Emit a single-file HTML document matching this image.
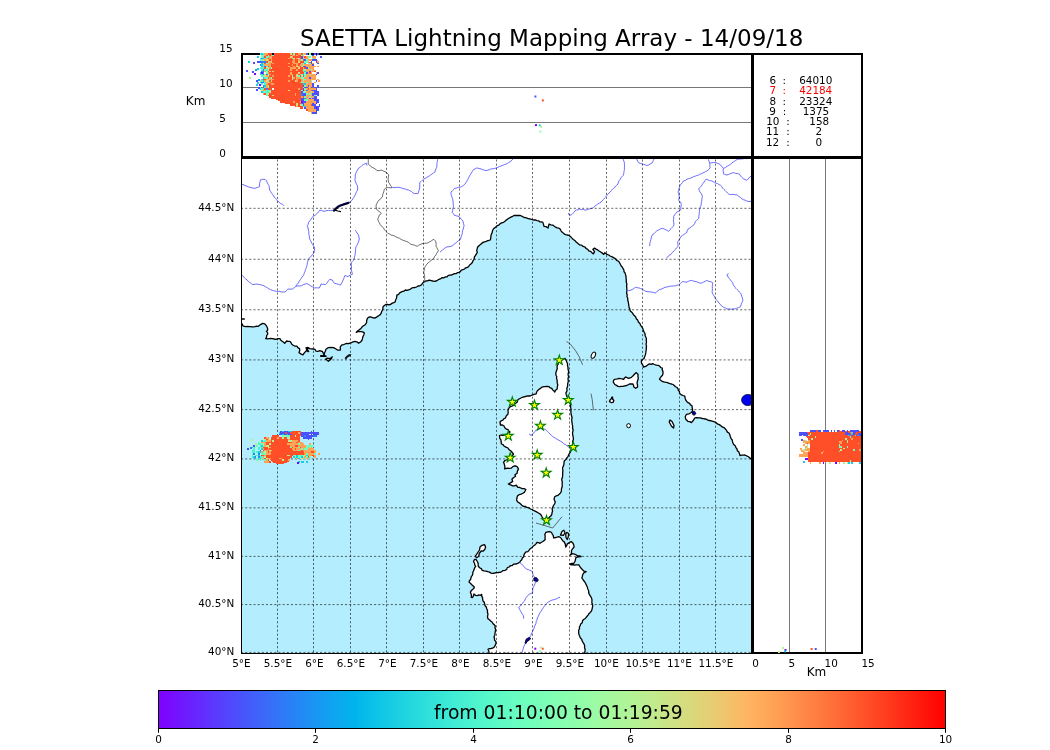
<!DOCTYPE html><html><head><meta charset="utf-8"><title>SAETTA Lightning Mapping Array</title><style>html,body{margin:0;padding:0;background:#fff;width:1050px;height:750px;overflow:hidden}svg{display:block;will-change:transform}text{font-family:"DejaVu Sans","Liberation Sans",sans-serif}</style></head><body><svg width="1050" height="750" viewBox="0 0 1050 750"><defs><clipPath id="mapclip"><rect x="241.5" y="157" width="510" height="496"/></clipPath><clipPath id="topclip"><rect x="242" y="53" width="510" height="104"/></clipPath><clipPath id="topclip2"><rect x="243" y="53" width="508" height="103"/></clipPath><clipPath id="rclip"><rect x="752" y="157" width="110" height="496"/></clipPath><linearGradient id="rbw" x1="0" y1="0" x2="1" y2="0"><stop offset="0.000" stop-color="#8000ff"/><stop offset="0.025" stop-color="#7314ff"/><stop offset="0.050" stop-color="#6628fe"/><stop offset="0.075" stop-color="#593cfd"/><stop offset="0.100" stop-color="#4c4ffc"/><stop offset="0.125" stop-color="#4062fa"/><stop offset="0.150" stop-color="#3374f8"/><stop offset="0.175" stop-color="#2685f5"/><stop offset="0.200" stop-color="#1996f3"/><stop offset="0.225" stop-color="#0da6ef"/><stop offset="0.250" stop-color="#00b4ec"/><stop offset="0.275" stop-color="#0dc2e8"/><stop offset="0.300" stop-color="#19cee3"/><stop offset="0.325" stop-color="#26d9de"/><stop offset="0.350" stop-color="#33e3d9"/><stop offset="0.375" stop-color="#40ecd4"/><stop offset="0.400" stop-color="#4df3ce"/><stop offset="0.425" stop-color="#59f8c8"/><stop offset="0.450" stop-color="#66fcc2"/><stop offset="0.475" stop-color="#73febb"/><stop offset="0.500" stop-color="#80ffb4"/><stop offset="0.525" stop-color="#8cfead"/><stop offset="0.550" stop-color="#99fca6"/><stop offset="0.575" stop-color="#a6f89e"/><stop offset="0.600" stop-color="#b2f396"/><stop offset="0.625" stop-color="#bfec8e"/><stop offset="0.650" stop-color="#cce385"/><stop offset="0.675" stop-color="#d9d97d"/><stop offset="0.700" stop-color="#e5ce74"/><stop offset="0.725" stop-color="#f2c26b"/><stop offset="0.750" stop-color="#ffb462"/><stop offset="0.775" stop-color="#ffa658"/><stop offset="0.800" stop-color="#ff964f"/><stop offset="0.825" stop-color="#ff8545"/><stop offset="0.850" stop-color="#ff743c"/><stop offset="0.875" stop-color="#ff6232"/><stop offset="0.900" stop-color="#ff4f28"/><stop offset="0.925" stop-color="#ff3c1e"/><stop offset="0.950" stop-color="#ff2814"/><stop offset="0.975" stop-color="#ff140a"/><stop offset="1.000" stop-color="#ff0000"/></linearGradient><polygon id="star" points="0.0,-5.1 1.1,-1.6 4.9,-1.6 1.9,0.6 3.0,4.1 0.0,1.9 -3.0,4.1 -1.9,0.6 -4.9,-1.6 -1.1,-1.6"/></defs><text x="300" y="46" font-size="23">SAETTA Lightning Mapping Array - 14/09/18</text><g clip-path="url(#mapclip)"><polygon points="241.5,323.0 242.4,324.6 243.2,326.2 246.0,326.6 247.5,326.4 249.0,326.7 250.5,326.6 252.0,326.8 253.5,326.8 255.0,326.7 256.5,326.1 258.0,326.4 260.4,324.6 262.8,323.4 264.8,323.8 266.4,325.8 267.6,328.2 267.6,330.2 266.4,331.4 267.6,332.6 267.8,334.0 266.6,335.7 266.6,337.3 265.6,338.6 267.5,338.9 269.4,338.6 271.0,338.5 272.6,338.6 274.2,339.0 276.1,339.4 278.0,338.7 279.9,338.6 280.6,340.0 281.8,341.0 283.3,342.1 284.7,343.3 286.6,341.0 288.2,341.3 289.9,341.4 291.1,342.7 291.8,344.3 293.5,345.5 295.0,346.2 296.9,346.2 297.9,347.6 299.5,348.6 299.8,350.2 299.0,352.6 300.7,353.8 302.9,354.8 304.5,352.6 306.4,350.7 306.9,348.8 308.3,347.9 309.8,348.6 311.4,348.9 313.1,349.0 315.0,349.3 316.0,351.2 317.9,351.3 319.8,350.7 322.6,351.7 323.6,354.0 324.0,355.5 324.5,353.1 325.3,351.2 326.0,349.3 328.3,347.6 331.2,347.4 333.6,347.6 336.0,349.0 337.9,350.2 340.2,350.2 340.4,348.5 340.2,346.9 342.1,344.8 343.6,344.6 345.0,344.0 346.6,343.3 348.4,343.7 350.0,343.1 351.6,342.6 353.0,341.8 354.6,341.4 356.8,341.8 358.6,343.1 360.5,342.0 362.0,340.3 362.5,338.3 363.1,336.3 363.9,334.7 364.3,332.9 362.7,331.9 360.9,331.7 359.3,331.7 357.8,331.7 356.3,332.3 357.9,330.8 359.7,329.4 361.0,328.5 361.9,327.1 363.1,326.0 364.6,325.2 365.7,324.0 366.6,322.6 366.6,321.0 367.0,319.4 367.7,318.0 369.4,316.9 371.5,317.2 373.4,318.0 375.3,317.9 376.9,316.9 378.6,315.7 380.3,314.6 381.2,313.1 381.7,311.4 382.6,310.0 382.9,308.3 383.1,306.6 384.5,305.4 386.0,304.3 387.7,304.5 389.4,304.9 390.9,304.1 392.3,303.1 393.7,302.6 395.1,302.0 395.7,299.7 396.5,298.3 396.7,296.7 396.9,295.1 398.6,294.3 399.7,292.9 402.0,291.7 403.9,291.2 405.4,290.0 407.0,290.3 408.5,289.8 410.0,289.4 411.5,288.2 413.4,287.7 415.1,287.5 416.6,287.0 418.0,286.0 419.8,285.8 421.4,284.9 423.1,282.6 424.6,281.8 426.0,280.9 427.6,280.9 429.0,280.2 430.6,280.3 432.0,281.0 433.6,281.1 435.1,281.4 437.4,280.3 439.1,279.3 440.9,278.6 442.2,277.6 444.0,277.8 445.4,276.9 447.1,276.8 448.3,275.3 450.0,275.1 451.6,275.0 453.0,274.3 454.4,273.7 456.0,273.7 457.3,272.7 458.9,272.3 460.3,271.6 461.3,270.1 462.9,269.7 464.5,269.0 465.7,267.8 467.4,267.4 468.7,266.4 469.6,265.0 470.9,264.0 472.3,262.5 473.1,260.6 474.2,259.0 474.3,257.1 475.5,255.4 476.6,253.7 477.3,252.2 476.7,250.6 477.1,249.1 477.6,247.2 478.9,245.7 480.4,244.6 481.7,243.4 483.5,242.1 485.7,241.7 487.1,240.8 488.7,240.5 490.3,240.0 490.7,238.3 490.9,236.6 491.1,234.7 492.0,233.1 492.6,230.3 493.7,228.5 495.4,227.4 497.1,225.7 498.8,225.1 500.1,223.7 501.7,222.9 503.5,222.3 505.0,221.3 506.3,220.0 507.8,218.9 509.3,218.0 510.9,217.1 512.6,216.3 514.3,215.4 516.2,215.5 518.1,215.5 520.0,215.4 521.4,216.0 522.8,216.7 524.1,217.5 525.7,217.7 527.6,218.3 529.5,218.8 531.4,219.4 533.3,220.0 535.3,219.9 537.1,220.6 538.6,220.8 539.9,221.9 541.4,221.9 542.9,222.3 543.4,224.3 544.0,226.3 546.2,226.7 548.0,228.0 548.5,226.0 549.1,224.0 550.8,224.8 552.8,225.1 554.3,226.3 555.7,227.2 557.2,227.9 559.0,228.2 560.3,229.3 561.0,230.8 562.0,232.1 563.5,233.2 564.9,234.4 566.9,235.0 568.9,235.3 570.4,236.5 571.7,237.9 573.3,239.5 575.1,240.7 576.1,242.0 577.4,243.0 579.7,244.9 581.6,245.2 583.1,246.4 584.9,247.0 586.1,248.5 587.7,249.3 588.8,250.8 590.7,251.4 592.0,252.7 593.4,253.9 594.6,251.6 592.9,249.3 594.6,248.1 596.0,249.1 597.7,249.9 599.1,251.0 600.7,252.0 602.3,253.1 603.7,254.4 604.9,252.7 607.1,254.4 608.7,255.0 610.1,256.0 611.7,256.7 613.1,257.3 614.4,258.1 615.7,259.0 616.8,260.5 618.7,261.3 619.7,263.0 620.5,264.5 621.2,266.0 622.4,267.2 623.1,268.7 623.9,270.0 624.0,271.7 625.1,272.9 625.4,274.4 626.0,276.3 626.1,278.2 626.3,280.1 626.2,282.0 626.9,283.9 626.6,285.9 626.8,287.8 626.9,289.7 626.8,291.6 626.6,293.3 627.2,295.0 627.0,296.7 627.8,298.3 627.7,300.0 628.3,302.0 628.6,304.1 628.9,305.9 629.1,307.6 629.9,309.3 630.3,311.0 631.5,312.0 632.6,313.1 633.3,314.5 634.3,315.6 635.7,316.9 636.3,318.8 637.7,320.1 638.4,322.0 639.9,323.4 640.6,325.3 641.9,326.9 642.9,328.7 643.4,330.6 644.2,332.2 645.1,333.9 645.1,335.7 645.9,337.3 646.4,338.9 646.3,340.7 646.5,342.4 646.0,344.1 646.5,345.9 646.3,347.6 646.3,349.3 646.0,351.0 645.8,352.7 645.5,354.4 644.8,356.4 644.0,358.4 641.7,360.1 641.3,361.9 641.7,363.6 642.9,365.1 643.4,367.0 645.7,366.4 648.0,364.7 649.4,363.9 651.2,364.4 652.6,363.6 654.4,364.5 656.3,365.2 658.3,365.3 659.7,366.2 660.7,367.5 662.3,368.1 662.2,369.9 663.0,371.6 663.0,373.6 662.4,375.5 661.2,376.6 660.2,377.8 659.5,379.3 661.1,380.6 662.9,381.7 664.8,382.2 666.8,382.4 668.6,383.1 670.1,383.6 671.6,384.0 673.0,384.5 674.3,385.5 675.5,386.7 677.0,387.5 678.1,388.8 678.3,390.3 679.5,391.5 679.5,393.1 681.0,394.6 682.9,395.5 684.8,396.2 685.2,398.4 686.0,400.4 686.9,401.7 688.1,402.7 689.6,403.4 690.5,404.9 692.0,405.8 692.2,407.6 692.6,409.4 692.5,411.1 691.4,412.5 689.0,413.8 686.5,414.3 685.3,416.5 685.4,418.1 686.0,419.5 687.8,421.3 689.7,421.6 691.4,422.6 693.3,420.5 694.5,418.2 696.5,417.6 699.2,417.8 700.7,417.9 702.2,418.6 703.7,418.7 705.2,419.0 706.7,419.4 708.1,420.3 709.7,420.5 711.2,420.8 712.9,421.3 714.5,421.8 716.0,422.6 717.4,423.9 719.2,424.6 720.8,425.6 721.8,426.7 723.3,427.3 724.6,428.1 725.6,429.2 726.6,430.6 727.4,432.1 729.0,433.0 729.8,434.6 730.3,436.5 731.0,438.4 732.2,440.0 732.5,441.7 733.1,443.3 734.0,444.8 735.4,445.9 735.9,447.7 737.0,449.0 737.4,450.8 738.9,452.1 739.5,453.9 740.0,455.6 741.6,455.2 743.2,455.2 744.8,455.0 746.6,455.8 748.4,456.8 750.0,458.1 751.5,459.5 752.0,459.5 752.0,654.0 241.0,654.0 241.0,323.0" fill="#b4edfd"/><polygon points="565.0,358.4 566.1,360.1 566.8,362.0 567.5,363.7 567.5,365.6 568.0,367.3 568.0,369.2 568.6,371.0 568.4,372.8 568.0,374.6 568.6,376.4 568.2,377.9 568.0,379.4 568.4,380.9 568.0,382.4 567.7,383.9 567.6,385.4 567.4,387.0 566.8,388.4 567.0,389.9 566.8,391.4 565.9,392.9 566.2,394.4 566.8,396.3 568.0,398.0 568.3,399.7 568.9,401.3 569.8,402.8 570.4,404.2 570.6,405.8 570.6,407.3 571.0,408.8 570.9,410.6 570.9,412.4 571.1,414.2 571.6,416.0 572.1,417.7 571.7,419.4 571.8,421.1 572.1,422.7 572.2,424.4 572.7,426.2 572.5,428.0 573.1,429.8 572.8,431.6 572.5,433.2 572.7,434.8 573.1,436.4 573.3,438.0 573.4,439.6 572.7,441.2 572.9,442.8 572.4,444.4 572.7,446.0 571.7,447.5 571.3,449.3 570.8,451.1 570.0,452.7 569.1,454.0 568.4,455.4 567.8,456.9 566.7,458.0 566.0,459.4 564.6,460.5 564.0,462.0 564.0,463.9 563.6,465.6 562.7,467.3 562.6,469.0 562.9,470.6 562.7,472.3 562.7,474.0 562.6,475.7 562.5,477.4 561.7,479.0 562.0,480.7 562.3,482.4 562.1,484.0 562.3,485.6 562.0,487.3 561.4,489.1 561.4,491.0 560.7,492.7 559.5,494.1 558.0,495.3 556.3,495.8 554.7,496.7 554.0,499.3 555.3,502.0 554.6,503.8 553.5,505.5 552.7,507.3 552.1,509.0 552.6,511.0 552.0,512.7 551.8,514.5 550.7,516.0 548.7,518.0 546.0,519.3 543.3,518.7 542.1,517.1 541.3,515.3 539.8,513.8 538.0,512.7 536.1,511.6 534.0,510.7 532.5,509.7 530.5,509.0 528.8,507.8 526.9,507.3 525.1,506.4 523.6,506.3 522.2,505.6 521.1,504.5 520.0,503.4 517.8,502.0 516.8,500.7 516.7,499.0 517.4,496.1 519.3,494.6 521.2,494.1 522.9,493.2 524.3,492.4 525.1,491.0 525.9,489.5 524.1,488.7 522.2,488.7 520.8,488.0 519.4,487.3 517.8,487.3 516.3,485.1 514.6,485.9 512.7,485.8 511.2,485.1 509.7,484.7 508.3,484.0 510.5,482.9 512.7,481.4 511.9,479.2 513.4,477.7 515.6,476.3 514.9,474.8 517.1,473.3 517.4,471.1 518.5,468.9 517.1,466.7 515.7,465.9 514.1,466.0 512.5,466.9 511.2,468.2 509.4,468.3 507.5,468.2 504.6,468.9 505.0,467.1 504.6,465.3 504.2,463.8 503.5,462.3 505.0,460.5 506.6,460.0 508.0,459.0 509.9,457.8 512.0,457.0 512.5,455.4 513.5,454.0 512.2,452.5 511.0,451.0 509.2,449.8 508.0,448.0 505.9,447.1 504.0,446.0 503.0,444.6 501.5,444.0 501.1,442.0 501.0,440.0 500.0,438.7 499.6,437.1 499.5,435.5 501.0,435.0 502.5,435.4 504.0,435.0 506.0,434.4 508.0,434.0 510.0,432.0 508.8,430.9 508.0,429.5 506.3,429.1 505.0,428.0 504.0,426.0 502.4,425.0 500.5,425.0 500.2,423.5 500.0,422.0 501.3,420.8 503.0,420.0 504.0,418.7 505.5,418.0 506.0,416.4 506.9,415.2 508.0,414.0 508.2,412.5 508.0,411.0 508.2,409.4 509.0,408.0 510.5,406.6 512.5,406.0 513.7,405.0 514.7,403.8 516.0,403.0 517.4,402.0 517.7,400.1 519.0,399.0 521.0,398.0 523.0,397.0 524.7,396.9 526.3,396.2 528.0,396.0 530.1,396.0 532.0,395.0 534.1,394.4 536.2,393.8 536.6,392.2 537.4,390.8 538.8,389.5 540.4,388.4 542.0,387.1 544.0,386.6 545.6,386.5 547.2,386.3 548.8,386.6 550.1,387.8 551.8,388.4 552.5,389.8 553.8,390.8 554.8,392.0 555.6,390.2 557.2,389.0 557.3,386.9 557.8,384.8 557.3,383.2 557.1,381.6 557.2,380.0 556.5,378.5 556.8,376.7 556.0,375.2 555.8,373.6 556.0,371.9 556.6,370.4 557.2,368.9 557.1,367.2 557.2,365.6 558.3,364.0 558.4,362.0 559.5,360.7 560.8,359.6 563.0,359.4" fill="#fff" stroke="#000" stroke-width="1.3" stroke-linejoin="round"/><polygon points="489.3,654.0 489.0,652.4 488.7,650.8 488.0,649.3 489.3,648.7 491.0,648.5 492.6,648.2 494.0,647.3 495.2,645.4 496.0,643.3 495.9,641.5 494.5,640.1 494.5,638.4 494.0,636.7 494.9,635.0 495.0,633.1 495.3,631.3 495.7,629.5 494.9,627.8 495.3,626.0 494.2,624.7 492.9,623.5 492.0,622.0 490.7,620.9 489.4,619.7 488.0,618.7 487.5,617.1 487.7,615.6 488.0,614.0 487.4,612.3 487.5,610.4 486.7,608.7 486.3,607.0 485.1,605.7 484.7,604.0 484.3,602.3 483.0,601.0 482.7,599.3 482.5,597.6 481.7,596.1 481.7,594.4 480.4,595.3 478.7,594.9 477.3,595.7 475.8,595.4 474.5,594.5 473.9,594.0 473.5,595.9 472.5,597.5 471.3,597.4 471.5,595.6 471.1,593.9 470.4,592.2 471.3,590.7 472.5,589.5 473.8,588.5 474.3,587.0 472.9,585.7 471.5,584.5 470.4,583.2 469.1,582.2 469.4,580.7 470.6,579.6 470.9,578.1 471.3,576.6 472.3,575.4 472.8,573.9 472.8,572.3 473.5,571.0 474.1,569.4 474.7,567.7 475.7,566.3 474.8,565.0 474.6,563.5 473.5,561.5 474.5,559.5 476.3,559.7 477.3,561.5 478.1,563.0 478.2,564.7 478.3,566.3 479.6,567.7 481.3,568.6 482.3,570.3 484.1,570.9 485.9,571.1 487.7,571.7 489.5,572.1 491.1,573.1 493.0,573.3 494.7,573.0 496.3,572.6 498.0,572.5 499.7,572.3 501.5,571.8 503.1,570.6 505.0,570.3 506.6,569.5 507.3,567.6 509.1,567.0 510.3,565.7 512.2,565.5 513.8,564.1 515.7,564.0 517.8,563.4 519.7,562.3 520.6,560.9 521.8,559.7 522.3,558.0 523.7,557.0 523.9,554.9 525.0,553.0 526.2,551.8 527.9,551.6 529.0,550.3 530.1,548.8 531.8,547.8 533.0,546.3 534.6,545.3 536.0,543.9 537.0,542.3 538.5,542.7 540.0,543.3 541.4,542.3 542.9,541.5 545.1,539.7 545.0,538.0 545.2,536.2 544.8,534.5 545.9,532.3 548.8,531.6 550.4,531.8 551.7,532.7 552.2,534.1 553.2,535.3 553.6,537.8 556.1,537.5 558.7,536.7 560.5,537.5 562.0,539.7 562.9,541.0 564.2,541.9 565.3,544.1 565.7,547.0 566.7,545.7 567.1,544.1 569.3,542.6 571.2,541.5 572.8,542.9 573.7,544.8 574.1,547.0 572.3,549.2 571.5,550.5 571.5,552.1 571.2,553.8 570.1,555.1 572.3,553.6 575.2,554.3 577.4,555.8 579.3,556.0 581.1,556.5 578.2,556.8 576.0,557.3 575.5,559.1 575.2,561.0 573.7,563.5 571.6,563.3 569.7,564.0 570.8,564.8 572.5,564.6 574.3,565.2 576.0,564.8 578.9,564.8 579.6,566.1 581.1,568.3 582.5,569.8 584.0,571.2 586.2,571.6 584.0,572.7 582.6,574.9 582.4,576.4 581.8,577.8 583.3,580.0 585.0,582.3 585.8,583.9 586.6,585.5 587.4,587.2 587.7,589.0 588.6,590.5 588.7,592.2 589.0,593.9 590.0,595.3 591.0,597.0 591.8,598.7 592.0,600.7 591.8,602.5 592.4,604.2 592.7,606.0 592.3,607.8 592.0,609.6 591.3,611.3 590.2,612.4 589.1,613.4 588.3,614.9 587.3,616.0 586.3,617.2 585.4,618.5 584.0,619.3 582.6,620.6 582.2,622.7 580.7,624.0 580.2,625.5 579.4,626.9 579.6,628.6 578.7,630.0 578.7,631.8 578.7,633.6 579.3,635.3 579.9,636.7 580.4,638.1 581.7,639.2 582.0,640.7 583.0,642.4 584.1,644.1 584.7,646.0 584.5,647.6 585.1,649.2 585.1,650.8 584.7,652.4 585.3,654.0 583.8,653.6 582.3,653.5 580.7,654.0 579.2,654.0 577.7,653.8 576.2,654.0 574.6,654.2 573.1,654.1 571.6,654.4 570.1,654.1 568.5,653.5 567.0,653.5 565.5,653.9 564.0,654.0 562.4,654.2 560.9,654.4 559.4,654.2 557.9,653.7 556.3,653.6 554.8,654.1 553.3,653.7 551.8,653.7 550.3,653.8 548.7,653.8 547.2,653.7 545.7,654.1 544.2,653.8 542.6,654.2 541.1,654.0 539.6,653.7 538.1,653.8 536.5,654.2 535.0,653.6 533.5,653.9 532.0,653.9 530.4,654.5 528.9,654.0 527.4,654.2 525.9,653.8 524.3,654.0 522.8,653.7 521.3,653.9 519.8,653.7 518.3,654.2 516.7,653.9 515.2,653.8 513.7,653.7 512.2,654.1 510.6,653.7 509.1,653.6 507.6,653.8 506.1,653.5 504.5,653.5 503.0,654.0 501.5,654.0 500.0,654.3 498.4,653.7 496.9,653.6 495.4,654.0 493.9,653.8 492.3,653.8 490.8,653.8" fill="#fff" stroke="#000" stroke-width="1.3" stroke-linejoin="round"/><polygon points="613.3,381.2 614.3,379.3 615.9,379.1 617.5,378.8 619.0,378.3 620.6,378.6 622.2,378.8 623.8,379.3 624.5,377.9 625.7,376.9 627.1,377.7 628.6,378.3 631.4,377.4 633.3,375.5 634.7,374.0 636.2,372.6 638.1,374.5 637.9,376.1 638.2,377.7 638.1,379.3 637.4,381.2 637.1,383.1 637.5,385.0 637.6,386.9 635.7,388.3 633.8,386.9 633.5,385.4 632.9,384.0 631.2,383.9 629.5,384.0 628.1,384.8 626.7,385.5 624.8,385.9 622.9,386.4 621.3,386.3 619.7,386.6 618.1,386.4 616.5,385.4 614.8,384.5 613.3,382.1" fill="#fff" stroke="#000" stroke-width="1.3" stroke-linejoin="round"/><polygon points="670.0,420.0 672.0,421.5 674.0,425.5 673.6,428.0 671.5,426.3 669.2,422.0" fill="#fff" stroke="#000" stroke-width="1.3" stroke-linejoin="round"/><polygon points="610.0,400.0 611.6,398.5 611.8,397.2 612.6,397.2 612.6,399.0 613.8,400.5 613.2,402.3 611.0,402.6 609.5,401.5" fill="#fff" stroke="#000" stroke-width="1.3" stroke-linejoin="round"/><polygon points="480.0,547.0 482.0,545.3 484.5,544.6 485.6,547.0 484.8,549.5 483.0,551.2 481.2,550.9 479.3,553.5 478.6,556.5 476.5,557.8 475.4,556.2 477.5,553.0 479.5,550.0" fill="#fff" stroke="#000" stroke-width="1.3" stroke-linejoin="round"/><polygon points="560.5,535.0 562.0,531.5 563.8,530.2 565.0,532.5 563.5,535.3" fill="#fff" stroke="#000" stroke-width="1.3" stroke-linejoin="round"/><polygon points="565.7,534.0 567.0,532.5 568.6,533.5 568.2,537.0 567.2,539.5 566.0,537.5" fill="#fff" stroke="#000" stroke-width="1.3" stroke-linejoin="round"/><polygon points="325.5,359.2 327.4,360.3 328.3,361.3 330.0,360.0 331.3,358.8 332.3,356.8 331.5,357.6 329.5,358.6 327.0,358.2" fill="#fff" stroke="#000" stroke-width="1.3" stroke-linejoin="round"/><ellipse cx="593.4" cy="355.2" rx="1.9" ry="3.3" transform="rotate(25 593.4 355.2)" fill="#fff" stroke="#000" stroke-width="1"/><ellipse cx="628.6" cy="425.7" rx="1.9" ry="2.1" fill="#fff" stroke="#000" stroke-width="1"/><polyline points="241.5,323.0 242.4,324.6 243.2,326.2 246.0,326.6 247.5,326.4 249.0,326.7 250.5,326.6 252.0,326.8 253.5,326.8 255.0,326.7 256.5,326.1 258.0,326.4 260.4,324.6 262.8,323.4 264.8,323.8 266.4,325.8 267.6,328.2 267.6,330.2 266.4,331.4 267.6,332.6 267.8,334.0 266.6,335.7 266.6,337.3 265.6,338.6 267.5,338.9 269.4,338.6 271.0,338.5 272.6,338.6 274.2,339.0 276.1,339.4 278.0,338.7 279.9,338.6 280.6,340.0 281.8,341.0 283.3,342.1 284.7,343.3 286.6,341.0 288.2,341.3 289.9,341.4 291.1,342.7 291.8,344.3 293.5,345.5 295.0,346.2 296.9,346.2 297.9,347.6 299.5,348.6 299.8,350.2 299.0,352.6 300.7,353.8 302.9,354.8 304.5,352.6 306.4,350.7 306.9,348.8 308.3,347.9 309.8,348.6 311.4,348.9 313.1,349.0 315.0,349.3 316.0,351.2 317.9,351.3 319.8,350.7 322.6,351.7 323.6,354.0 324.0,355.5 324.5,353.1 325.3,351.2 326.0,349.3 328.3,347.6 331.2,347.4 333.6,347.6 336.0,349.0 337.9,350.2 340.2,350.2 340.4,348.5 340.2,346.9 342.1,344.8 343.6,344.6 345.0,344.0 346.6,343.3 348.4,343.7 350.0,343.1 351.6,342.6 353.0,341.8 354.6,341.4 356.8,341.8 358.6,343.1 360.5,342.0 362.0,340.3 362.5,338.3 363.1,336.3 363.9,334.7 364.3,332.9 362.7,331.9 360.9,331.7 359.3,331.7 357.8,331.7 356.3,332.3 357.9,330.8 359.7,329.4 361.0,328.5 361.9,327.1 363.1,326.0 364.6,325.2 365.7,324.0 366.6,322.6 366.6,321.0 367.0,319.4 367.7,318.0 369.4,316.9 371.5,317.2 373.4,318.0 375.3,317.9 376.9,316.9 378.6,315.7 380.3,314.6 381.2,313.1 381.7,311.4 382.6,310.0 382.9,308.3 383.1,306.6 384.5,305.4 386.0,304.3 387.7,304.5 389.4,304.9 390.9,304.1 392.3,303.1 393.7,302.6 395.1,302.0 395.7,299.7 396.5,298.3 396.7,296.7 396.9,295.1 398.6,294.3 399.7,292.9 402.0,291.7 403.9,291.2 405.4,290.0 407.0,290.3 408.5,289.8 410.0,289.4 411.5,288.2 413.4,287.7 415.1,287.5 416.6,287.0 418.0,286.0 419.8,285.8 421.4,284.9 423.1,282.6 424.6,281.8 426.0,280.9 427.6,280.9 429.0,280.2 430.6,280.3 432.0,281.0 433.6,281.1 435.1,281.4 437.4,280.3 439.1,279.3 440.9,278.6 442.2,277.6 444.0,277.8 445.4,276.9 447.1,276.8 448.3,275.3 450.0,275.1 451.6,275.0 453.0,274.3 454.4,273.7 456.0,273.7 457.3,272.7 458.9,272.3 460.3,271.6 461.3,270.1 462.9,269.7 464.5,269.0 465.7,267.8 467.4,267.4 468.7,266.4 469.6,265.0 470.9,264.0 472.3,262.5 473.1,260.6 474.2,259.0 474.3,257.1 475.5,255.4 476.6,253.7 477.3,252.2 476.7,250.6 477.1,249.1 477.6,247.2 478.9,245.7 480.4,244.6 481.7,243.4 483.5,242.1 485.7,241.7 487.1,240.8 488.7,240.5 490.3,240.0 490.7,238.3 490.9,236.6 491.1,234.7 492.0,233.1 492.6,230.3 493.7,228.5 495.4,227.4 497.1,225.7 498.8,225.1 500.1,223.7 501.7,222.9 503.5,222.3 505.0,221.3 506.3,220.0 507.8,218.9 509.3,218.0 510.9,217.1 512.6,216.3 514.3,215.4 516.2,215.5 518.1,215.5 520.0,215.4 521.4,216.0 522.8,216.7 524.1,217.5 525.7,217.7 527.6,218.3 529.5,218.8 531.4,219.4 533.3,220.0 535.3,219.9 537.1,220.6 538.6,220.8 539.9,221.9 541.4,221.9 542.9,222.3 543.4,224.3 544.0,226.3 546.2,226.7 548.0,228.0 548.5,226.0 549.1,224.0 550.8,224.8 552.8,225.1 554.3,226.3 555.7,227.2 557.2,227.9 559.0,228.2 560.3,229.3 561.0,230.8 562.0,232.1 563.5,233.2 564.9,234.4 566.9,235.0 568.9,235.3 570.4,236.5 571.7,237.9 573.3,239.5 575.1,240.7 576.1,242.0 577.4,243.0 579.7,244.9 581.6,245.2 583.1,246.4 584.9,247.0 586.1,248.5 587.7,249.3 588.8,250.8 590.7,251.4 592.0,252.7 593.4,253.9 594.6,251.6 592.9,249.3 594.6,248.1 596.0,249.1 597.7,249.9 599.1,251.0 600.7,252.0 602.3,253.1 603.7,254.4 604.9,252.7 607.1,254.4 608.7,255.0 610.1,256.0 611.7,256.7 613.1,257.3 614.4,258.1 615.7,259.0 616.8,260.5 618.7,261.3 619.7,263.0 620.5,264.5 621.2,266.0 622.4,267.2 623.1,268.7 623.9,270.0 624.0,271.7 625.1,272.9 625.4,274.4 626.0,276.3 626.1,278.2 626.3,280.1 626.2,282.0 626.9,283.9 626.6,285.9 626.8,287.8 626.9,289.7 626.8,291.6 626.6,293.3 627.2,295.0 627.0,296.7 627.8,298.3 627.7,300.0 628.3,302.0 628.6,304.1 628.9,305.9 629.1,307.6 629.9,309.3 630.3,311.0 631.5,312.0 632.6,313.1 633.3,314.5 634.3,315.6 635.7,316.9 636.3,318.8 637.7,320.1 638.4,322.0 639.9,323.4 640.6,325.3 641.9,326.9 642.9,328.7 643.4,330.6 644.2,332.2 645.1,333.9 645.1,335.7 645.9,337.3 646.4,338.9 646.3,340.7 646.5,342.4 646.0,344.1 646.5,345.9 646.3,347.6 646.3,349.3 646.0,351.0 645.8,352.7 645.5,354.4 644.8,356.4 644.0,358.4 641.7,360.1 641.3,361.9 641.7,363.6 642.9,365.1 643.4,367.0 645.7,366.4 648.0,364.7 649.4,363.9 651.2,364.4 652.6,363.6 654.4,364.5 656.3,365.2 658.3,365.3 659.7,366.2 660.7,367.5 662.3,368.1 662.2,369.9 663.0,371.6 663.0,373.6 662.4,375.5 661.2,376.6 660.2,377.8 659.5,379.3 661.1,380.6 662.9,381.7 664.8,382.2 666.8,382.4 668.6,383.1 670.1,383.6 671.6,384.0 673.0,384.5 674.3,385.5 675.5,386.7 677.0,387.5 678.1,388.8 678.3,390.3 679.5,391.5 679.5,393.1 681.0,394.6 682.9,395.5 684.8,396.2 685.2,398.4 686.0,400.4 686.9,401.7 688.1,402.7 689.6,403.4 690.5,404.9 692.0,405.8 692.2,407.6 692.6,409.4 692.5,411.1 691.4,412.5 689.0,413.8 686.5,414.3 685.3,416.5 685.4,418.1 686.0,419.5 687.8,421.3 689.7,421.6 691.4,422.6 693.3,420.5 694.5,418.2 696.5,417.6 699.2,417.8 700.7,417.9 702.2,418.6 703.7,418.7 705.2,419.0 706.7,419.4 708.1,420.3 709.7,420.5 711.2,420.8 712.9,421.3 714.5,421.8 716.0,422.6 717.4,423.9 719.2,424.6 720.8,425.6 721.8,426.7 723.3,427.3 724.6,428.1 725.6,429.2 726.6,430.6 727.4,432.1 729.0,433.0 729.8,434.6 730.3,436.5 731.0,438.4 732.2,440.0 732.5,441.7 733.1,443.3 734.0,444.8 735.4,445.9 735.9,447.7 737.0,449.0 737.4,450.8 738.9,452.1 739.5,453.9 740.0,455.6 741.6,455.2 743.2,455.2 744.8,455.0 746.6,455.8 748.4,456.8 750.0,458.1 751.5,459.5" fill="none" stroke="#000" stroke-width="1.3" stroke-linejoin="round"/><polygon points="320.2,355.1 326.4,355.2 326.6,356.9 320.2,356.9" fill="#000"/><polygon points="305.2,347.6 307.5,346.8 309.3,347.8 308.0,349.5 309.5,351.5 308.0,352.5 306.5,351.0" fill="#000"/><polygon points="345.1,358.3 345.9,356.8 349,354.5 350.9,354.5 350.5,355.6 347.4,357.3 345.9,359.4" fill="#111" stroke="#000" stroke-width="0.6"/><path d="M241.5,319 H244.8" stroke="#000" stroke-width="1.4"/><polyline points="368.1,157.0 368.2,158.7 368.3,160.4 368.3,162.2 368.1,163.9 369.5,164.9 370.6,166.3 372.1,167.3 373.6,168.0 375.0,168.9 376.4,170.0 377.9,170.7 379.9,170.4 381.9,170.1 383.8,171.3 385.9,171.9 387.3,173.3 388.7,174.7 388.5,176.7 388.1,178.7 388.3,180.7 388.7,182.7 389.8,183.9 390.4,185.5 391.6,186.7 391.6,187.9 390.1,187.8 388.5,187.6 387.0,187.3 385.5,188.3 384.1,189.6 383.8,191.7 383.0,193.6 382.6,195.3 382.4,197.0 381.1,198.0 380.2,199.4 378.8,200.2 377.9,201.6 377.0,203.3 376.1,205.0 376.1,206.6 376.5,208.1 376.7,209.6 377.9,210.5 379.1,211.5 380.4,212.3 381.3,213.6 379.0,215.3 378.8,216.9 377.9,218.3 377.9,219.9 378.6,221.4 379.4,222.9 380.1,224.4 381.1,225.8 382.4,226.8 383.6,227.9 384.5,229.8 385.9,231.3 387.1,232.4 388.1,233.6 389.7,234.0 391.1,235.1 392.7,235.4 394.5,235.9 396.1,237.0 397.8,237.6 399.6,238.3 400.9,239.3 402.3,240.0 403.8,240.5 405.3,241.1 406.8,241.5 408.2,242.2 409.4,243.2 410.6,244.1 412.1,244.6 413.9,244.9 415.6,245.7 417.3,246.3 418.5,245.3 419.9,244.7 421.3,244.0 422.9,243.4 424.7,243.3 426.4,243.2 428.1,242.9 429.4,241.8 431.1,241.3 432.3,240.0 433.9,239.4 435.6,241.1 436.0,242.8 436.1,244.6 436.1,246.3 436.9,247.6 437.5,249.1 438.4,250.3 437.7,251.9 436.7,253.3 436.1,254.9 434.7,256.2 434.0,258.1 432.7,259.4 431.0,260.4 429.6,261.7 428.1,262.9 426.8,264.3 425.8,265.9 424.7,267.4 424.4,268.9 424.2,270.5 423.6,272.0 424.2,273.9 424.6,275.8 424.7,277.7 424.7,279.3 424.3,280.8" fill="none" stroke="#3c3c3c" stroke-width="0.75"/><polyline points="566.4,341.4 570.6,344.4 575.4,350.4 579.0,356.4 582.6,364.8" fill="none" stroke="#3c3c3c" stroke-width="0.75"/><polyline points="591.0,393.6 592.2,399.6 593.4,410.4" fill="none" stroke="#3c3c3c" stroke-width="0.75"/><polyline points="536.0,523.0 552.7,528.0 562.0,516.7" fill="none" stroke="#3c3c3c" stroke-width="0.75"/><polyline points="242.1,184.4 244.1,185.0 246.0,185.9 247.9,186.7 249.6,187.3 251.3,187.7 253.0,188.1 254.7,188.4 256.2,187.8 257.8,187.4 259.3,186.7 259.6,185.0 259.6,183.3 260.1,181.6 260.4,179.9 262.7,179.3 265.0,179.3 266.7,181.0 267.2,182.6 268.0,184.2 269.0,185.6 269.4,187.8 269.6,190.1 270.6,191.4 271.3,192.9 272.4,194.1 273.4,195.5 274.1,197.0 275.4,198.2 276.5,199.6 277.6,201.0 279.1,202.2 280.6,203.5 282.4,204.3 283.9,205.6" fill="none" stroke="#5a5aff" stroke-width="0.9" stroke-linejoin="round"/><polyline points="333.6,210.1 331.9,210.3 330.2,210.7 328.4,210.4 326.7,210.6 325.0,211.1 323.3,211.3 321.6,210.6 319.9,210.1 318.9,211.5 317.7,212.9 316.4,214.1 315.0,215.4 313.3,216.3 311.9,217.6 310.9,219.4 309.6,221.0 308.6,222.4 308.3,224.2 307.3,225.6 308.0,227.8 308.4,230.1 308.9,231.8 308.7,233.6 309.2,235.4 309.4,237.1 309.6,238.9 310.5,240.4 311.1,241.9 311.9,243.4 312.9,244.9 313.9,246.4 314.7,248.0 314.4,250.3 314.1,252.6 313.0,254.0 312.0,255.5 310.5,256.6 309.5,258.0 308.4,259.4 307.9,261.1 307.3,262.8 307.2,264.6 306.7,266.3 306.2,267.9 305.6,269.5 305.1,271.1 304.4,272.7 303.9,274.3 303.2,275.8 302.1,277.0 301.1,278.4 300.3,279.8 299.3,281.1 298.4,283.0 296.9,284.5 295.9,286.3" fill="none" stroke="#5a5aff" stroke-width="0.9" stroke-linejoin="round"/><polyline points="242.1,275.4 243.4,276.4 244.4,277.8 245.6,278.9 247.1,279.9 248.2,281.3 249.6,282.4 251.1,283.4 252.4,284.6 254.7,284.4 257.0,284.0 258.7,284.5 260.5,284.6 262.2,285.3 263.9,285.7 265.6,286.8 267.3,287.7 268.9,288.9 270.7,289.7 272.6,290.4 274.5,290.8 276.4,291.4 278.1,291.4 279.9,291.4 281.5,291.9 283.3,292.0 285.0,292.0 286.5,290.6 287.9,289.1 290.1,289.1 292.4,289.1 294.2,287.7 295.9,286.3 297.8,285.9 299.7,285.9 301.6,285.7 303.2,284.7 305.0,284.2 306.7,283.4 308.1,284.3 309.6,285.1 311.0,286.2 312.7,286.9 314.1,288.0 315.8,287.8 317.6,287.9 319.3,288.0 320.3,286.0 321.0,284.0 323.3,284.3 325.6,284.6 326.7,283.4 327.6,282.0 328.6,280.7 329.6,279.4 332.4,280.0 333.3,281.8 334.7,283.4 336.7,283.8 338.6,284.4 340.4,285.1 341.6,283.1 342.7,281.1 343.5,279.2 344.2,277.3 345.0,275.4 347.3,276.6 349.0,275.9 350.7,275.0 352.4,274.3 351.9,272.0 351.3,269.7 351.5,268.0 351.5,266.3 351.4,264.6 351.3,262.9 352.2,261.6 353.4,260.4 354.1,258.9 354.4,257.3 354.8,255.8 355.2,254.2 355.3,252.6 355.6,250.7 355.6,248.9 355.9,247.0 357.0,245.3 357.9,243.4 358.7,241.2 359.3,239.0 358.7,235.9 358.1,234.3 357.1,233.0 356.2,231.5 355.3,230.1" fill="none" stroke="#5a5aff" stroke-width="0.9" stroke-linejoin="round"/><polyline points="348.4,202.7 350.3,201.8 351.9,200.4 352.7,199.0 353.7,197.6 354.6,196.2 355.3,194.7 355.9,193.1 356.6,191.5 357.6,190.1 357.6,187.8 357.4,185.6 356.3,183.8 355.6,181.8 354.8,179.9 355.2,178.3 355.3,176.7 355.2,175.0 355.8,173.3 356.6,171.6 357.5,170.0 358.4,168.4 360.3,167.2 361.9,165.6 363.3,164.6 364.8,163.9 366.4,163.3 367.0,165.6" fill="none" stroke="#5a5aff" stroke-width="0.9" stroke-linejoin="round"/><polyline points="391.6,187.3 393.3,187.6 395.0,187.5 396.7,187.4 398.4,187.3 400.2,187.6 401.9,188.1 403.5,188.7 405.3,189.0 406.8,189.7 408.5,189.9 409.9,190.7 411.5,191.5 412.8,192.8 414.4,193.6 416.1,193.4 417.9,193.6 418.6,192.1 418.9,190.5 419.6,189.0 419.7,186.9 419.8,184.8 419.6,182.7 421.0,181.6 422.2,180.4 423.6,179.3 425.0,178.4 426.5,177.7 427.9,176.8 429.3,175.9 430.7,174.9 432.1,173.9 433.6,172.9 435.0,171.9 435.4,170.3 436.0,168.8 436.7,167.3 436.9,165.4 436.9,163.5 437.3,161.6 437.7,159.3 437.9,157.0" fill="none" stroke="#5a5aff" stroke-width="0.9" stroke-linejoin="round"/><polyline points="440.0,252.0 441.8,250.7 443.4,249.1 445.1,247.9 446.9,246.9 448.8,246.7 450.8,246.4 452.6,245.7 454.0,244.3 455.7,243.2 457.1,241.7 458.8,240.5 460.6,239.4 460.9,237.6 461.4,235.9 462.1,234.2 462.4,232.4 462.6,230.6 463.3,229.0 463.6,227.3 464.1,225.6 463.4,223.3 463.0,221.0 461.6,219.5 460.3,218.0 459.0,216.4 456.7,215.9 454.4,215.3 453.4,213.7 452.1,212.4 452.7,210.8 452.7,209.0 453.3,207.3 453.5,205.7 453.1,204.1 453.2,202.5 453.0,200.9 452.7,199.3 452.1,197.4 451.4,195.5 451.0,193.6 451.0,191.9 452.3,190.9 453.5,189.8 454.4,188.4 456.3,188.1 458.2,187.4 460.1,187.3 461.7,186.5 463.3,185.5 464.7,184.4 465.8,182.9 466.8,181.3 467.7,179.7 468.5,178.1 469.3,176.4 470.3,174.7 471.4,173.0 472.4,171.3 473.4,169.6 475.2,168.9 476.9,167.9 479.1,168.5 481.4,169.0 482.9,169.8 484.5,170.1 486.0,170.7 487.6,170.2 489.2,169.8 490.6,169.0 492.5,168.8 494.4,168.5 496.3,167.9 497.9,167.4 499.3,166.5 500.9,166.1 502.8,165.3 504.7,164.5 506.6,163.9 508.5,162.6 510.6,161.6 511.8,160.0 513.4,158.7 514.5,157.0" fill="none" stroke="#5a5aff" stroke-width="0.9" stroke-linejoin="round"/><polyline points="568.3,213.0 569.4,215.3 571.7,214.7 572.9,213.4 574.2,212.2 575.1,210.7 576.5,209.9 578.3,209.8 579.7,209.0 581.4,209.6 583.3,209.5 585.0,210.1 586.8,209.9 588.5,209.4 590.1,208.6 591.9,208.4 593.6,207.5 594.9,206.1 596.4,205.0 597.9,204.0 599.5,203.1 601.0,202.1 602.2,200.9 603.4,199.6 604.4,198.2 605.6,197.0 606.7,195.7 607.7,194.3 608.9,193.1 610.2,192.0 611.3,190.7 612.3,189.4 613.5,188.4 614.8,187.4 615.7,186.0 616.9,185.0 618.1,183.9 618.4,182.1 619.3,180.4 620.4,179.2 621.1,177.7 622.1,176.5 623.3,175.3 623.8,173.4 624.0,171.5 624.4,169.6 624.4,167.9 624.5,166.1 624.4,164.4 624.4,162.7 623.8,161.0 623.3,159.3 623.0,157.0" fill="none" stroke="#5a5aff" stroke-width="0.9" stroke-linejoin="round"/><polyline points="635.5,157.0 636.4,158.4 637.1,159.9 637.7,161.4 638.7,162.7 640.3,163.4 641.9,163.9 643.5,164.3 645.2,164.8 646.7,165.6 648.7,164.9 650.6,163.8 652.4,162.7 653.1,160.7 654.1,158.9 654.9,157.0" fill="none" stroke="#5a5aff" stroke-width="0.9" stroke-linejoin="round"/><polyline points="649.7,246.1 649.8,243.8 650.3,241.6 651.0,239.3 651.4,237.0 652.4,234.7 654.0,233.7 655.2,232.3 656.6,231.1 658.1,230.1 659.6,229.4 661.1,228.7 662.7,228.4 664.7,229.2 666.6,230.2 668.4,231.3 669.9,230.2 670.9,228.6 672.2,227.3 673.6,226.1 673.9,224.5 673.9,222.9 673.4,221.2 673.5,219.6 673.9,218.0 673.6,216.4 674.5,215.0 675.5,213.8 676.4,212.4 678.0,211.6 679.5,210.6 681.0,209.6 680.7,207.9 681.1,206.1 681.2,204.4 681.0,202.7 679.8,201.6 678.7,200.4 678.9,198.7 679.3,197.0 679.0,195.3 678.7,193.6 678.0,192.0 678.7,190.5 678.8,188.7 679.6,187.2 679.9,185.6 681.0,184.1 682.4,182.7 683.3,181.0 685.3,180.4 687.0,179.2 688.6,178.6 690.4,178.2 692.0,177.6 693.5,176.6 695.2,176.2 696.7,175.5 698.3,175.2 699.6,174.3 701.2,173.8 702.7,173.0 704.2,172.4 705.7,171.5 707.2,170.8 708.8,169.4 710.2,167.8 709.8,166.2 709.9,164.6 709.6,163.0 709.0,161.2 708.4,159.4 708.0,157.0" fill="none" stroke="#5a5aff" stroke-width="0.9" stroke-linejoin="round"/><polyline points="710.2,163.0 712.0,162.7 713.8,162.6 715.6,162.4 717.2,163.2 718.9,163.8 720.4,164.8 721.9,166.6 723.4,168.4 723.1,170.2 723.4,172.0 723.4,173.8 724.9,174.4 726.4,175.0 728.3,174.6 730.0,173.8 731.8,173.1 733.6,172.6 735.5,173.4 737.7,173.6 739.6,174.4 740.6,176.0 741.8,177.3 743.2,178.6 745.0,179.5 746.8,180.4 748.2,179.0 749.4,177.4 751.0,176.2" fill="none" stroke="#5a5aff" stroke-width="0.9" stroke-linejoin="round"/><polyline points="723.4,168.4 725.3,167.6 727.0,166.3 728.8,165.4 730.5,164.4 731.9,162.9 733.6,161.8 735.4,160.6 737.2,159.4 739.1,159.1 741.1,159.0 743.0,158.8 744.7,158.5 746.3,158.6 748.0,158.6" fill="none" stroke="#5a5aff" stroke-width="0.9" stroke-linejoin="round"/><polyline points="666.3,258.1 667.8,257.0 668.9,255.5 670.6,254.6 671.7,253.1 673.1,251.9 674.4,250.4 675.8,249.0 676.9,247.4 678.3,246.1 677.8,244.1 677.7,242.1 678.5,240.7 679.2,239.2 680.3,238.0 681.0,236.5 682.4,235.5 683.9,234.5 685.3,233.5 686.8,232.6 687.2,230.7 688.0,229.0 689.6,228.1 691.1,227.1 692.4,225.8 694.0,224.8 694.8,223.4 695.2,221.8 696.3,220.5 697.7,219.5 698.8,218.2 698.8,216.5 699.1,214.8 699.1,213.2 699.5,211.5 699.4,209.8 700.1,208.3 700.4,206.5 701.2,205.0 701.2,203.3 701.7,201.6 701.8,199.9 702.0,198.3 702.4,196.6 701.9,194.9 701.2,193.4 700.0,192.0 699.3,190.5 698.8,188.8 699.9,187.5 701.1,186.2 702.1,184.8 703.0,183.4 704.1,182.0 705.0,180.6 706.0,179.2 707.8,179.8 709.5,180.6 711.5,180.8 713.2,181.6 714.6,182.4 716.0,183.2 717.6,183.6 718.9,184.6 720.4,185.2 721.7,186.4 722.6,188.1 723.9,189.4 725.2,190.6 726.4,191.8 727.6,193.0 728.8,194.2 730.5,194.6 732.2,194.4 733.9,194.4 735.5,194.8 737.2,194.8 738.6,196.4 740.5,197.4 742.0,199.0 743.4,199.7 745.0,200.1 746.5,200.9 748.0,201.4 751.0,201.4" fill="none" stroke="#5a5aff" stroke-width="0.9" stroke-linejoin="round"/><polyline points="626.6,291.0 628.3,290.7 630.0,290.4 632.0,289.6 633.8,288.5 635.4,287.3 637.1,287.7 638.9,287.9 640.6,288.6 642.3,289.0 643.9,290.3 645.7,291.3 648.0,291.7 650.3,291.9 652.0,292.1 653.7,292.5 655.4,293.0 656.7,291.8 658.0,290.7 659.4,289.6 661.4,289.1 663.3,288.2 665.1,287.3 666.8,287.0 668.5,286.6 670.2,286.2 672.0,286.1 673.7,285.9 675.5,285.8 677.1,285.1 678.9,285.0 680.0,283.8 681.1,282.7 682.3,281.6 684.6,281.9 686.9,282.1 688.3,281.4 689.8,280.7 691.4,280.4 693.7,281.1 696.0,281.6 697.6,282.1 699.0,282.8 700.6,283.3 702.3,282.8 703.8,281.9 705.4,281.3 706.9,280.4 708.7,281.3 710.8,281.7 712.6,282.7 712.6,284.5 712.3,286.4 712.3,288.2 712.4,290.1 712.0,291.9 712.7,293.7 713.6,295.3 714.6,297.0 715.4,298.7 716.5,300.1 717.8,301.3 718.8,302.9 720.1,304.1 721.1,305.6 722.5,306.5 723.9,307.5 725.5,308.0 726.9,309.0 728.5,308.9 730.1,309.0 731.7,309.2 733.3,308.8 734.9,309.0 736.8,308.2 738.7,307.5 740.6,306.7 741.0,304.9 741.5,303.2 742.5,301.6 742.9,299.9 742.4,298.2 741.8,296.4 741.2,294.7 740.6,293.0 739.3,292.0 738.3,290.7 737.2,289.6 736.0,288.4 734.9,287.3 734.0,285.9 733.1,284.3 732.6,282.7 731.5,281.3 730.4,279.8 729.2,278.4 728.0,277.0 726.9,274.7 728.6,273.6" fill="none" stroke="#5a5aff" stroke-width="0.9" stroke-linejoin="round"/><polyline points="529.0,434.0 531.4,435.5 532.2,434.0 533.7,433.1 534.7,431.8 535.6,430.4 537.1,429.5 538.8,429.2 540.4,428.6 542.0,428.6 543.6,429.2 545.2,429.2 546.3,430.5 547.7,431.5 548.8,432.8 550.0,434.0 551.2,435.2 552.4,436.4 554.1,437.3 555.6,438.4 557.2,439.4 558.8,440.2 560.4,441.1 562.0,442.0 563.2,443.3 564.6,444.2 566.2,445.0 567.4,446.2 568.7,447.3 570.5,448.4 572.5,449.0" fill="none" stroke="#5a5aff" stroke-width="0.9" stroke-linejoin="round"/><polyline points="519.7,562.3 521.1,563.5 522.3,565.0 523.8,566.2 524.9,567.7 526.3,569.0 528.2,569.5 529.9,570.4 531.7,571.0 532.6,572.5 532.8,574.2 533.7,575.7 534.6,577.7 535.7,579.7 535.5,581.7 535.0,583.7 534.2,585.8 533.0,587.7 532.7,589.4 532.6,591.0 532.7,592.7 531.0,593.4 529.3,594.0 528.2,595.5 526.7,596.7 525.4,598.6 524.7,600.7 523.4,601.9 522.5,603.4 521.3,604.7 520.2,606.2 518.7,607.3 519.6,609.4 520.7,611.3 521.8,613.5 523.3,615.3 523.6,617.0 523.7,618.7" fill="none" stroke="#5a5aff" stroke-width="0.9" stroke-linejoin="round"/><polyline points="560.0,597.3 558.4,597.6 557.0,598.6 555.4,599.2 553.9,599.8 552.2,600.0 550.7,600.7 548.6,601.8 546.7,603.3 545.5,604.5 544.6,605.9 543.6,607.3 542.7,608.7 541.7,610.0 540.9,611.4 540.0,612.7 539.1,614.5 538.4,616.3 537.3,618.0 537.1,619.8 536.2,621.5 536.0,623.3 535.2,625.0 534.4,626.8 534.0,628.7 533.0,630.4 532.2,632.2 531.3,634.0 530.8,635.6 529.8,637.0 529.3,638.7 528.0,639.7 526.7,640.7 525.5,642.6 524.7,644.7 523.8,646.6 523.3,648.7 522.5,650.8 522.0,653.0" fill="none" stroke="#5a5aff" stroke-width="0.9" stroke-linejoin="round"/><path d="M334,210.6 C336,208 339,205.6 343,204.6 C345,204 347,203.5 348.6,202.8" fill="none" stroke="#000033" stroke-width="2.2" stroke-linecap="round"/><path d="M335,210.2 L338,211 L340.5,211.6" fill="none" stroke="#000" stroke-width="1.2" stroke-linecap="round"/><ellipse cx="747.8" cy="400" rx="6.2" ry="5.6" fill="#0000f0" stroke="#000033" stroke-width="0.8"/><polygon points="692.3,412 694.5,411.2 696,413.6 694.2,415.3 692.6,414.6" fill="#0000c8" stroke="#000" stroke-width="0.8"/><polygon points="533.8,578 536.5,577.6 538.4,580.3 536.8,581.8 535,580.6 534,581" fill="#0000c8" stroke="#000" stroke-width="0.9"/><polygon points="525,642.8 526.3,639 528.8,637.6 530.6,638.3 529.5,640 527,641.5 526,643.6" fill="#0000c8" stroke="#000" stroke-width="0.9"/><line x1="277.50" y1="652.4" x2="277.50" y2="157" stroke="#000" stroke-width="1" stroke-dasharray="2.08,2.08" opacity="0.6"/><line x1="313.50" y1="652.4" x2="313.50" y2="157" stroke="#000" stroke-width="1" stroke-dasharray="2.08,2.08" opacity="0.6"/><line x1="350.50" y1="652.4" x2="350.50" y2="157" stroke="#000" stroke-width="1" stroke-dasharray="2.08,2.08" opacity="0.6"/><line x1="386.50" y1="652.4" x2="386.50" y2="157" stroke="#000" stroke-width="1" stroke-dasharray="2.08,2.08" opacity="0.6"/><line x1="423.50" y1="652.4" x2="423.50" y2="157" stroke="#000" stroke-width="1" stroke-dasharray="2.08,2.08" opacity="0.6"/><line x1="459.50" y1="652.4" x2="459.50" y2="157" stroke="#000" stroke-width="1" stroke-dasharray="2.08,2.08" opacity="0.6"/><line x1="496.50" y1="652.4" x2="496.50" y2="157" stroke="#000" stroke-width="1" stroke-dasharray="2.08,2.08" opacity="0.6"/><line x1="532.50" y1="652.4" x2="532.50" y2="157" stroke="#000" stroke-width="1" stroke-dasharray="2.08,2.08" opacity="0.6"/><line x1="569.50" y1="652.4" x2="569.50" y2="157" stroke="#000" stroke-width="1" stroke-dasharray="2.08,2.08" opacity="0.6"/><line x1="606.50" y1="652.4" x2="606.50" y2="157" stroke="#000" stroke-width="1" stroke-dasharray="2.08,2.08" opacity="0.6"/><line x1="642.50" y1="652.4" x2="642.50" y2="157" stroke="#000" stroke-width="1" stroke-dasharray="2.08,2.08" opacity="0.6"/><line x1="679.50" y1="652.4" x2="679.50" y2="157" stroke="#000" stroke-width="1" stroke-dasharray="2.08,2.08" opacity="0.6"/><line x1="715.50" y1="652.4" x2="715.50" y2="157" stroke="#000" stroke-width="1" stroke-dasharray="2.08,2.08" opacity="0.6"/><line x1="241" y1="652.40" x2="752" y2="652.40" stroke="#000" stroke-width="1" stroke-dasharray="2.08,2.08" opacity="0.6"/><line x1="241" y1="604.58" x2="752" y2="604.58" stroke="#000" stroke-width="1" stroke-dasharray="2.08,2.08" opacity="0.6"/><line x1="241" y1="556.40" x2="752" y2="556.40" stroke="#000" stroke-width="1" stroke-dasharray="2.08,2.08" opacity="0.6"/><line x1="241" y1="507.85" x2="752" y2="507.85" stroke="#000" stroke-width="1" stroke-dasharray="2.08,2.08" opacity="0.6"/><line x1="241" y1="458.92" x2="752" y2="458.92" stroke="#000" stroke-width="1" stroke-dasharray="2.08,2.08" opacity="0.6"/><line x1="241" y1="409.61" x2="752" y2="409.61" stroke="#000" stroke-width="1" stroke-dasharray="2.08,2.08" opacity="0.6"/><line x1="241" y1="359.91" x2="752" y2="359.91" stroke="#000" stroke-width="1" stroke-dasharray="2.08,2.08" opacity="0.6"/><line x1="241" y1="309.79" x2="752" y2="309.79" stroke="#000" stroke-width="1" stroke-dasharray="2.08,2.08" opacity="0.6"/><line x1="241" y1="259.27" x2="752" y2="259.27" stroke="#000" stroke-width="1" stroke-dasharray="2.08,2.08" opacity="0.6"/><line x1="241" y1="208.31" x2="752" y2="208.31" stroke="#000" stroke-width="1" stroke-dasharray="2.08,2.08" opacity="0.6"/><use href="#star" x="559.3" y="360.3" fill="#ffff00" stroke="#008000" stroke-width="1.1" stroke-linejoin="miter"/><use href="#star" x="512.3" y="402.0" fill="#ffff00" stroke="#008000" stroke-width="1.1" stroke-linejoin="miter"/><use href="#star" x="534.5" y="405.2" fill="#ffff00" stroke="#008000" stroke-width="1.1" stroke-linejoin="miter"/><use href="#star" x="568.3" y="400.1" fill="#ffff00" stroke="#008000" stroke-width="1.1" stroke-linejoin="miter"/><use href="#star" x="557.6" y="415.0" fill="#ffff00" stroke="#008000" stroke-width="1.1" stroke-linejoin="miter"/><use href="#star" x="540.4" y="425.9" fill="#ffff00" stroke="#008000" stroke-width="1.1" stroke-linejoin="miter"/><use href="#star" x="508.3" y="436.0" fill="#ffff00" stroke="#008000" stroke-width="1.1" stroke-linejoin="miter"/><use href="#star" x="510.2" y="457.8" fill="#ffff00" stroke="#008000" stroke-width="1.1" stroke-linejoin="miter"/><use href="#star" x="537.2" y="455.0" fill="#ffff00" stroke="#008000" stroke-width="1.1" stroke-linejoin="miter"/><use href="#star" x="573.3" y="447.1" fill="#ffff00" stroke="#008000" stroke-width="1.1" stroke-linejoin="miter"/><use href="#star" x="546.2" y="472.9" fill="#ffff00" stroke="#008000" stroke-width="1.1" stroke-linejoin="miter"/><use href="#star" x="546.5" y="520.4" fill="#ffff00" stroke="#008000" stroke-width="1.1" stroke-linejoin="miter"/></g><g clip-path="url(#mapclip)" shape-rendering="crispEdges"><rect x="252.5" y="445.0" width="2" height="2" fill="#4c4ffc"/><rect x="250.0" y="447.0" width="2" height="2" fill="#2982f6"/><rect x="253.0" y="451.5" width="2" height="2" fill="#19cee3"/><rect x="255.0" y="443.0" width="2" height="2" fill="#b2f396"/><rect x="247.0" y="448.0" width="2" height="2" fill="#4c4ffc"/><rect x="298.3" y="460.5" width="2" height="2" fill="#19cee3"/><rect x="300.5" y="461.0" width="2" height="2" fill="#19cee3"/><rect x="302.0" y="461.0" width="2" height="2" fill="#19cee3"/><rect x="296.5" y="462.3" width="2" height="2" fill="#8000ff"/><rect x="306.3" y="461.0" width="2" height="2" fill="#19cee3"/><rect x="318.0" y="453.2" width="2" height="2" fill="#ffa356"/><rect x="251.0" y="439.0" width="2" height="2" fill="#b2f396"/><polygon points="271.8,438.2 272.9,436.5 277.5,435.3 281.0,437.5 289.6,437.6 290.7,431.3 296.0,430.8 301.0,431.5 303.9,433.0 304.5,434.7 302.2,435.9 299.3,436.5 298.8,438.2 299.9,440.5 299.3,442.2 295.3,439.9 289.0,444.5 292.5,450.2 296.5,450.8 303.9,451.0 304.0,454.2 296.5,454.5 294.2,454.8 291.3,456.0 290.2,459.4 288.4,461.7 283.0,463.4 278.7,463.8 273.0,462.8 269.5,459.0 267.0,454.0 266.3,448.5 267.3,443.0 269.5,439.5" fill="#ff4f28"/><rect x="280.4" y="430.6" width="1.6" height="1.6" fill="#4c4ffc"/><rect x="282.0" y="430.6" width="1.6" height="1.6" fill="#19cee3"/><rect x="283.6" y="430.6" width="4.8" height="1.6" fill="#4c4ffc"/><rect x="288.4" y="430.6" width="3.2" height="1.6" fill="#19cee3"/><rect x="293.2" y="430.6" width="8.0" height="1.6" fill="#ff4f28"/><rect x="310.8" y="430.6" width="1.6" height="1.6" fill="#4c4ffc"/><rect x="278.8" y="432.2" width="1.6" height="1.6" fill="#19cee3"/><rect x="280.4" y="432.2" width="4.8" height="1.6" fill="#4c4ffc"/><rect x="285.2" y="432.2" width="1.6" height="1.6" fill="#ff4f28"/><rect x="286.8" y="432.2" width="3.2" height="1.6" fill="#4c4ffc"/><rect x="290.0" y="432.2" width="8.0" height="1.6" fill="#ff4f28"/><rect x="298.0" y="432.2" width="1.6" height="1.6" fill="#ffa356"/><rect x="299.6" y="432.2" width="1.6" height="1.6" fill="#ff4f28"/><rect x="301.2" y="432.2" width="17.6" height="1.6" fill="#4c4ffc"/><rect x="278.8" y="433.8" width="3.2" height="1.6" fill="#4c4ffc"/><rect x="282.0" y="433.8" width="1.6" height="1.6" fill="#19cee3"/><rect x="283.6" y="433.8" width="3.2" height="1.6" fill="#4c4ffc"/><rect x="286.8" y="433.8" width="1.6" height="1.6" fill="#19cee3"/><rect x="288.4" y="433.8" width="3.2" height="1.6" fill="#4c4ffc"/><rect x="291.6" y="433.8" width="9.6" height="1.6" fill="#ff4f28"/><rect x="301.2" y="433.8" width="8.0" height="1.6" fill="#4c4ffc"/><rect x="310.8" y="433.8" width="1.6" height="1.6" fill="#4c4ffc"/><rect x="314.0" y="433.8" width="4.8" height="1.6" fill="#4c4ffc"/><rect x="272.4" y="435.4" width="6.4" height="1.6" fill="#ff4f28"/><rect x="282.0" y="435.4" width="1.6" height="1.6" fill="#70febd"/><rect x="283.6" y="435.4" width="1.6" height="1.6" fill="#b2f396"/><rect x="285.2" y="435.4" width="4.8" height="1.6" fill="#70febd"/><rect x="290.0" y="435.4" width="4.8" height="1.6" fill="#ff4f28"/><rect x="294.8" y="435.4" width="1.6" height="1.6" fill="#b2f396"/><rect x="296.4" y="435.4" width="3.2" height="1.6" fill="#ff4f28"/><rect x="301.2" y="435.4" width="3.2" height="1.6" fill="#4c4ffc"/><rect x="304.4" y="435.4" width="1.6" height="1.6" fill="#2982f6"/><rect x="306.0" y="435.4" width="8.0" height="1.6" fill="#4c4ffc"/><rect x="314.0" y="435.4" width="1.6" height="1.6" fill="#2982f6"/><rect x="315.6" y="435.4" width="1.6" height="1.6" fill="#4c4ffc"/><rect x="264.4" y="437.0" width="1.6" height="1.6" fill="#ff4f28"/><rect x="266.0" y="437.0" width="3.2" height="1.6" fill="#ffa356"/><rect x="270.8" y="437.0" width="6.4" height="1.6" fill="#ff4f28"/><rect x="277.2" y="437.0" width="1.6" height="1.6" fill="#ffa356"/><rect x="278.8" y="437.0" width="3.2" height="1.6" fill="#ff4f28"/><rect x="282.0" y="437.0" width="1.6" height="1.6" fill="#b2f396"/><rect x="283.6" y="437.0" width="3.2" height="1.6" fill="#ff4f28"/><rect x="286.8" y="437.0" width="1.6" height="1.6" fill="#70febd"/><rect x="288.4" y="437.0" width="1.6" height="1.6" fill="#b2f396"/><rect x="290.0" y="437.0" width="9.6" height="1.6" fill="#ff4f28"/><rect x="302.8" y="437.0" width="9.6" height="1.6" fill="#4c4ffc"/><rect x="262.8" y="438.6" width="3.2" height="1.6" fill="#b2f396"/><rect x="266.0" y="438.6" width="1.6" height="1.6" fill="#ff4f28"/><rect x="267.6" y="438.6" width="1.6" height="1.6" fill="#ffa356"/><rect x="269.2" y="438.6" width="1.6" height="1.6" fill="#b2f396"/><rect x="270.8" y="438.6" width="17.6" height="1.6" fill="#ff4f28"/><rect x="288.4" y="438.6" width="1.6" height="1.6" fill="#ffa356"/><rect x="290.0" y="438.6" width="9.6" height="1.6" fill="#ff4f28"/><rect x="307.6" y="438.6" width="1.6" height="1.6" fill="#4c4ffc"/><rect x="261.2" y="440.2" width="1.6" height="1.6" fill="#19cee3"/><rect x="262.8" y="440.2" width="1.6" height="1.6" fill="#70febd"/><rect x="264.4" y="440.2" width="1.6" height="1.6" fill="#4df3ce"/><rect x="266.0" y="440.2" width="4.8" height="1.6" fill="#ffa356"/><rect x="270.8" y="440.2" width="1.6" height="1.6" fill="#ff4f28"/><rect x="272.4" y="440.2" width="1.6" height="1.6" fill="#b2f396"/><rect x="274.0" y="440.2" width="14.4" height="1.6" fill="#ff4f28"/><rect x="288.4" y="440.2" width="3.2" height="1.6" fill="#b2f396"/><rect x="291.6" y="440.2" width="6.4" height="1.6" fill="#ffa356"/><rect x="298.0" y="440.2" width="1.6" height="1.6" fill="#ff4f28"/><rect x="258.0" y="441.8" width="1.6" height="1.6" fill="#70febd"/><rect x="261.2" y="441.8" width="4.8" height="1.6" fill="#ffa356"/><rect x="266.0" y="441.8" width="25.6" height="1.6" fill="#ff4f28"/><rect x="291.6" y="441.8" width="4.8" height="1.6" fill="#ffa356"/><rect x="296.4" y="441.8" width="1.6" height="1.6" fill="#ff4f28"/><rect x="298.0" y="441.8" width="4.8" height="1.6" fill="#ffa356"/><rect x="258.0" y="443.4" width="3.2" height="1.6" fill="#4df3ce"/><rect x="261.2" y="443.4" width="1.6" height="1.6" fill="#70febd"/><rect x="262.8" y="443.4" width="1.6" height="1.6" fill="#b2f396"/><rect x="264.4" y="443.4" width="1.6" height="1.6" fill="#ffa356"/><rect x="266.0" y="443.4" width="3.2" height="1.6" fill="#ff4f28"/><rect x="269.2" y="443.4" width="1.6" height="1.6" fill="#b2f396"/><rect x="270.8" y="443.4" width="16.0" height="1.6" fill="#ff4f28"/><rect x="286.8" y="443.4" width="11.2" height="1.6" fill="#ffa356"/><rect x="298.0" y="443.4" width="1.6" height="1.6" fill="#70febd"/><rect x="299.6" y="443.4" width="4.8" height="1.6" fill="#ffa356"/><rect x="309.2" y="443.4" width="1.6" height="1.6" fill="#ffa356"/><rect x="256.4" y="445.0" width="1.6" height="1.6" fill="#70febd"/><rect x="259.6" y="445.0" width="1.6" height="1.6" fill="#4df3ce"/><rect x="261.2" y="445.0" width="1.6" height="1.6" fill="#19cee3"/><rect x="262.8" y="445.0" width="1.6" height="1.6" fill="#70febd"/><rect x="264.4" y="445.0" width="1.6" height="1.6" fill="#ffa356"/><rect x="266.0" y="445.0" width="3.2" height="1.6" fill="#b2f396"/><rect x="269.2" y="445.0" width="20.8" height="1.6" fill="#ff4f28"/><rect x="290.0" y="445.0" width="4.8" height="1.6" fill="#ffa356"/><rect x="294.8" y="445.0" width="3.2" height="1.6" fill="#ff4f28"/><rect x="298.0" y="445.0" width="8.0" height="1.6" fill="#ffa356"/><rect x="306.0" y="445.0" width="8.0" height="1.6" fill="#70febd"/><rect x="251.6" y="446.6" width="1.6" height="1.6" fill="#19cee3"/><rect x="253.2" y="446.6" width="3.2" height="1.6" fill="#70febd"/><rect x="258.0" y="446.6" width="1.6" height="1.6" fill="#4df3ce"/><rect x="259.6" y="446.6" width="1.6" height="1.6" fill="#70febd"/><rect x="261.2" y="446.6" width="1.6" height="1.6" fill="#4df3ce"/><rect x="262.8" y="446.6" width="4.8" height="1.6" fill="#ff4f28"/><rect x="267.6" y="446.6" width="1.6" height="1.6" fill="#b2f396"/><rect x="269.2" y="446.6" width="1.6" height="1.6" fill="#ffa356"/><rect x="270.8" y="446.6" width="19.2" height="1.6" fill="#ff4f28"/><rect x="290.0" y="446.6" width="1.6" height="1.6" fill="#70febd"/><rect x="291.6" y="446.6" width="1.6" height="1.6" fill="#ff4f28"/><rect x="293.2" y="446.6" width="4.8" height="1.6" fill="#ffa356"/><rect x="298.0" y="446.6" width="1.6" height="1.6" fill="#70febd"/><rect x="299.6" y="446.6" width="1.6" height="1.6" fill="#ff4f28"/><rect x="301.2" y="446.6" width="4.8" height="1.6" fill="#ffa356"/><rect x="306.0" y="446.6" width="1.6" height="1.6" fill="#70febd"/><rect x="307.6" y="446.6" width="1.6" height="1.6" fill="#ffa356"/><rect x="309.2" y="446.6" width="1.6" height="1.6" fill="#70febd"/><rect x="310.8" y="446.6" width="1.6" height="1.6" fill="#ffa356"/><rect x="253.2" y="448.2" width="1.6" height="1.6" fill="#4df3ce"/><rect x="258.0" y="448.2" width="1.6" height="1.6" fill="#4df3ce"/><rect x="261.2" y="448.2" width="1.6" height="1.6" fill="#19cee3"/><rect x="262.8" y="448.2" width="1.6" height="1.6" fill="#ffa356"/><rect x="264.4" y="448.2" width="3.2" height="1.6" fill="#ff4f28"/><rect x="267.6" y="448.2" width="1.6" height="1.6" fill="#ffa356"/><rect x="269.2" y="448.2" width="22.4" height="1.6" fill="#ff4f28"/><rect x="291.6" y="448.2" width="3.2" height="1.6" fill="#ffa356"/><rect x="294.8" y="448.2" width="1.6" height="1.6" fill="#ff4f28"/><rect x="296.4" y="448.2" width="4.8" height="1.6" fill="#ffa356"/><rect x="301.2" y="448.2" width="1.6" height="1.6" fill="#70febd"/><rect x="302.8" y="448.2" width="1.6" height="1.6" fill="#ffa356"/><rect x="304.4" y="448.2" width="3.2" height="1.6" fill="#70febd"/><rect x="307.6" y="448.2" width="6.4" height="1.6" fill="#ffa356"/><rect x="251.6" y="449.8" width="3.2" height="1.6" fill="#4df3ce"/><rect x="259.6" y="449.8" width="1.6" height="1.6" fill="#2982f6"/><rect x="262.8" y="449.8" width="1.6" height="1.6" fill="#ff4f28"/><rect x="264.4" y="449.8" width="3.2" height="1.6" fill="#ffa356"/><rect x="267.6" y="449.8" width="1.6" height="1.6" fill="#ff4f28"/><rect x="269.2" y="449.8" width="1.6" height="1.6" fill="#b2f396"/><rect x="270.8" y="449.8" width="1.6" height="1.6" fill="#ffa356"/><rect x="272.4" y="449.8" width="20.8" height="1.6" fill="#ff4f28"/><rect x="293.2" y="449.8" width="4.8" height="1.6" fill="#ffa356"/><rect x="298.0" y="449.8" width="1.6" height="1.6" fill="#70febd"/><rect x="299.6" y="449.8" width="1.6" height="1.6" fill="#ffa356"/><rect x="301.2" y="449.8" width="1.6" height="1.6" fill="#ff4f28"/><rect x="302.8" y="449.8" width="12.8" height="1.6" fill="#ffa356"/><rect x="251.6" y="451.4" width="3.2" height="1.6" fill="#4df3ce"/><rect x="256.4" y="451.4" width="1.6" height="1.6" fill="#4df3ce"/><rect x="258.0" y="451.4" width="3.2" height="1.6" fill="#19cee3"/><rect x="261.2" y="451.4" width="1.6" height="1.6" fill="#ffa356"/><rect x="262.8" y="451.4" width="1.6" height="1.6" fill="#4df3ce"/><rect x="264.4" y="451.4" width="1.6" height="1.6" fill="#b2f396"/><rect x="266.0" y="451.4" width="1.6" height="1.6" fill="#ffa356"/><rect x="267.6" y="451.4" width="1.6" height="1.6" fill="#ff4f28"/><rect x="269.2" y="451.4" width="1.6" height="1.6" fill="#ffa356"/><rect x="270.8" y="451.4" width="33.6" height="1.6" fill="#ff4f28"/><rect x="304.4" y="451.4" width="6.4" height="1.6" fill="#ffa356"/><rect x="310.8" y="451.4" width="3.2" height="1.6" fill="#ff4f28"/><rect x="314.0" y="451.4" width="1.6" height="1.6" fill="#ffa356"/><rect x="251.6" y="453.0" width="1.6" height="1.6" fill="#70febd"/><rect x="253.2" y="453.0" width="1.6" height="1.6" fill="#2982f6"/><rect x="258.0" y="453.0" width="1.6" height="1.6" fill="#2982f6"/><rect x="261.2" y="453.0" width="4.8" height="1.6" fill="#70febd"/><rect x="266.0" y="453.0" width="4.8" height="1.6" fill="#ffa356"/><rect x="270.8" y="453.0" width="33.6" height="1.6" fill="#ff4f28"/><rect x="304.4" y="453.0" width="1.6" height="1.6" fill="#ffa356"/><rect x="306.0" y="453.0" width="1.6" height="1.6" fill="#70febd"/><rect x="307.6" y="453.0" width="6.4" height="1.6" fill="#ffa356"/><rect x="314.0" y="453.0" width="1.6" height="1.6" fill="#70febd"/><rect x="251.6" y="454.6" width="1.6" height="1.6" fill="#4df3ce"/><rect x="254.8" y="454.6" width="3.2" height="1.6" fill="#4df3ce"/><rect x="258.0" y="454.6" width="1.6" height="1.6" fill="#19cee3"/><rect x="259.6" y="454.6" width="1.6" height="1.6" fill="#70febd"/><rect x="261.2" y="454.6" width="3.2" height="1.6" fill="#ff4f28"/><rect x="264.4" y="454.6" width="1.6" height="1.6" fill="#ffa356"/><rect x="266.0" y="454.6" width="20.8" height="1.6" fill="#ff4f28"/><rect x="286.8" y="454.6" width="3.2" height="1.6" fill="#b2f396"/><rect x="290.0" y="454.6" width="3.2" height="1.6" fill="#ff4f28"/><rect x="293.2" y="454.6" width="3.2" height="1.6" fill="#70febd"/><rect x="296.4" y="454.6" width="1.6" height="1.6" fill="#19cee3"/><rect x="298.0" y="454.6" width="6.4" height="1.6" fill="#70febd"/><rect x="304.4" y="454.6" width="1.6" height="1.6" fill="#dbd77b"/><rect x="306.0" y="454.6" width="1.6" height="1.6" fill="#19cee3"/><rect x="307.6" y="454.6" width="4.8" height="1.6" fill="#ffa356"/><rect x="312.4" y="454.6" width="1.6" height="1.6" fill="#ff4f28"/><rect x="314.0" y="454.6" width="1.6" height="1.6" fill="#ffa356"/><rect x="251.6" y="456.2" width="1.6" height="1.6" fill="#4df3ce"/><rect x="253.2" y="456.2" width="1.6" height="1.6" fill="#19cee3"/><rect x="254.8" y="456.2" width="1.6" height="1.6" fill="#2982f6"/><rect x="258.0" y="456.2" width="1.6" height="1.6" fill="#2982f6"/><rect x="259.6" y="456.2" width="3.2" height="1.6" fill="#4df3ce"/><rect x="262.8" y="456.2" width="1.6" height="1.6" fill="#ffa356"/><rect x="264.4" y="456.2" width="1.6" height="1.6" fill="#b2f396"/><rect x="266.0" y="456.2" width="25.6" height="1.6" fill="#ff4f28"/><rect x="293.2" y="456.2" width="1.6" height="1.6" fill="#19cee3"/><rect x="294.8" y="456.2" width="1.6" height="1.6" fill="#70febd"/><rect x="296.4" y="456.2" width="1.6" height="1.6" fill="#19cee3"/><rect x="298.0" y="456.2" width="3.2" height="1.6" fill="#70febd"/><rect x="301.2" y="456.2" width="1.6" height="1.6" fill="#19cee3"/><rect x="302.8" y="456.2" width="1.6" height="1.6" fill="#70febd"/><rect x="304.4" y="456.2" width="1.6" height="1.6" fill="#ffa356"/><rect x="306.0" y="456.2" width="1.6" height="1.6" fill="#70febd"/><rect x="307.6" y="456.2" width="1.6" height="1.6" fill="#ff4f28"/><rect x="309.2" y="456.2" width="1.6" height="1.6" fill="#70febd"/><rect x="314.0" y="456.2" width="1.6" height="1.6" fill="#ffa356"/><rect x="254.8" y="457.8" width="1.6" height="1.6" fill="#19cee3"/><rect x="256.4" y="457.8" width="1.6" height="1.6" fill="#70febd"/><rect x="258.0" y="457.8" width="1.6" height="1.6" fill="#4df3ce"/><rect x="259.6" y="457.8" width="1.6" height="1.6" fill="#19cee3"/><rect x="261.2" y="457.8" width="1.6" height="1.6" fill="#70febd"/><rect x="262.8" y="457.8" width="1.6" height="1.6" fill="#ffa356"/><rect x="264.4" y="457.8" width="1.6" height="1.6" fill="#ff4f28"/><rect x="266.0" y="457.8" width="1.6" height="1.6" fill="#b2f396"/><rect x="267.6" y="457.8" width="3.2" height="1.6" fill="#ffa356"/><rect x="270.8" y="457.8" width="8.0" height="1.6" fill="#ff4f28"/><rect x="278.8" y="457.8" width="3.2" height="1.6" fill="#ffa356"/><rect x="282.0" y="457.8" width="8.0" height="1.6" fill="#ff4f28"/><rect x="296.4" y="457.8" width="1.6" height="1.6" fill="#ffa356"/><rect x="298.0" y="457.8" width="1.6" height="1.6" fill="#19cee3"/><rect x="299.6" y="457.8" width="1.6" height="1.6" fill="#70febd"/><rect x="301.2" y="457.8" width="1.6" height="1.6" fill="#dbd77b"/><rect x="302.8" y="457.8" width="1.6" height="1.6" fill="#ffa356"/><rect x="304.4" y="457.8" width="1.6" height="1.6" fill="#70febd"/><rect x="306.0" y="457.8" width="1.6" height="1.6" fill="#ffa356"/><rect x="307.6" y="457.8" width="1.6" height="1.6" fill="#70febd"/><rect x="256.4" y="459.4" width="1.6" height="1.6" fill="#70febd"/><rect x="259.6" y="459.4" width="1.6" height="1.6" fill="#4df3ce"/><rect x="262.8" y="459.4" width="3.2" height="1.6" fill="#70febd"/><rect x="266.0" y="459.4" width="1.6" height="1.6" fill="#ffa356"/><rect x="267.6" y="459.4" width="1.6" height="1.6" fill="#ff4f28"/><rect x="270.8" y="459.4" width="11.2" height="1.6" fill="#ff4f28"/><rect x="282.0" y="459.4" width="1.6" height="1.6" fill="#b2f396"/><rect x="283.6" y="459.4" width="4.8" height="1.6" fill="#ff4f28"/><rect x="288.4" y="459.4" width="1.6" height="1.6" fill="#ffa356"/><rect x="264.4" y="461.0" width="4.8" height="1.6" fill="#ffa356"/><rect x="269.2" y="461.0" width="1.6" height="1.6" fill="#ff4f28"/><rect x="274.0" y="461.0" width="12.8" height="1.6" fill="#ff4f28"/><rect x="275.6" y="462.6" width="8.0" height="1.6" fill="#ff4f28"/></g><line x1="243" y1="87.5" x2="751" y2="87.5" stroke="#777" stroke-width="1"/><line x1="243" y1="122.5" x2="751" y2="122.5" stroke="#777" stroke-width="1"/><line x1="789.5" y1="159" x2="789.5" y2="652" stroke="#777" stroke-width="1"/><line x1="825.5" y1="159" x2="825.5" y2="652" stroke="#777" stroke-width="1"/><rect x="241" y="53" width="622" height="2" fill="#000"/><rect x="241" y="53" width="2" height="104" fill="#000"/><rect x="241" y="156" width="622" height="3" fill="#000"/><rect x="751" y="53" width="3" height="601" fill="#000"/><rect x="861" y="53" width="2" height="601" fill="#000"/><rect x="751" y="652" width="112" height="2" fill="#000"/><rect x="241" y="157" width="1" height="497" fill="#000"/><rect x="241" y="653" width="512" height="1" fill="#000"/><g clip-path="url(#topclip2)" shape-rendering="crispEdges"><rect x="247.8" y="61.3" width="2" height="2" fill="#19cee3"/><rect x="252.9" y="61.9" width="2" height="2" fill="#4c4ffc"/><rect x="256.7" y="56.1" width="2" height="2" fill="#19cee3"/><rect x="256.7" y="61.0" width="2" height="2" fill="#4c4ffc"/><rect x="258.7" y="61.0" width="2" height="2" fill="#4c4ffc"/><rect x="245.5" y="70.2" width="2" height="2" fill="#4c4ffc"/><rect x="252.3" y="70.9" width="2" height="2" fill="#4c4ffc"/><rect x="253.9" y="73.1" width="2" height="2" fill="#8000ff"/><rect x="254.8" y="69.0" width="2" height="2" fill="#0fa3f0"/><rect x="256.7" y="68.3" width="2" height="2" fill="#19cee3"/><rect x="248.7" y="77.0" width="2" height="2" fill="#b2f396"/><rect x="256.1" y="79.8" width="2" height="2" fill="#4c4ffc"/><rect x="255.8" y="84.0" width="2" height="2" fill="#19cee3"/><rect x="259.0" y="84.0" width="2" height="2" fill="#8000ff"/><rect x="255.5" y="88.5" width="2" height="2" fill="#4c4ffc"/><rect x="258.3" y="86.9" width="2" height="2" fill="#4c4ffc"/><rect x="257.5" y="79.0" width="2" height="2" fill="#0fa3f0"/><rect x="257.0" y="82.0" width="2" height="2" fill="#19cee3"/><rect x="315.7" y="59.5" width="2" height="2" fill="#ffa356"/><rect x="317.8" y="80.4" width="2" height="2" fill="#ffa356"/><rect x="314.4" y="69.8" width="2" height="2" fill="#ffa356"/><rect x="309.3" y="62.1" width="2" height="2" fill="#ff4f28"/><rect x="320.0" y="56.0" width="2" height="2" fill="#4c4ffc"/><polygon points="273.5,53.0 302.6,53.0 302.6,107.5 300.1,106.6 291.5,104.9 283.0,102.3 273.8,98.8 273.5,98.6" fill="#ff4f28"/><rect x="259.6" y="53.0" width="1.6" height="1.6" fill="#4df3ce"/><rect x="261.2" y="53.0" width="1.6" height="1.6" fill="#19cee3"/><rect x="262.8" y="53.0" width="1.6" height="1.6" fill="#4df3ce"/><rect x="264.4" y="53.0" width="3.2" height="1.6" fill="#ffa356"/><rect x="267.6" y="53.0" width="4.8" height="1.6" fill="#ff4f28"/><rect x="274.0" y="53.0" width="1.6" height="1.6" fill="#ff4f28"/><rect x="288.4" y="53.0" width="1.6" height="1.6" fill="#ff4f28"/><rect x="290.0" y="53.0" width="1.6" height="1.6" fill="#dbd77b"/><rect x="291.6" y="53.0" width="1.6" height="1.6" fill="#ff4f28"/><rect x="293.2" y="53.0" width="1.6" height="1.6" fill="#70febd"/><rect x="294.8" y="53.0" width="3.2" height="1.6" fill="#ff4f28"/><rect x="298.0" y="53.0" width="3.2" height="1.6" fill="#ffa356"/><rect x="301.2" y="53.0" width="1.6" height="1.6" fill="#ff4f28"/><rect x="302.8" y="53.0" width="1.6" height="1.6" fill="#70febd"/><rect x="304.4" y="53.0" width="1.6" height="1.6" fill="#ffa356"/><rect x="306.0" y="53.0" width="1.6" height="1.6" fill="#4c4ffc"/><rect x="309.2" y="53.0" width="1.6" height="1.6" fill="#70febd"/><rect x="314.0" y="53.0" width="1.6" height="1.6" fill="#4c4ffc"/><rect x="317.2" y="53.0" width="1.6" height="1.6" fill="#4c4ffc"/><rect x="261.2" y="54.6" width="1.6" height="1.6" fill="#70febd"/><rect x="262.8" y="54.6" width="1.6" height="1.6" fill="#dbd77b"/><rect x="264.4" y="54.6" width="1.6" height="1.6" fill="#ffa356"/><rect x="266.0" y="54.6" width="1.6" height="1.6" fill="#ff4f28"/><rect x="267.6" y="54.6" width="1.6" height="1.6" fill="#70febd"/><rect x="269.2" y="54.6" width="1.6" height="1.6" fill="#ff4f28"/><rect x="270.8" y="54.6" width="1.6" height="1.6" fill="#ffa356"/><rect x="272.4" y="54.6" width="1.6" height="1.6" fill="#70febd"/><rect x="274.0" y="54.6" width="1.6" height="1.6" fill="#ff4f28"/><rect x="290.0" y="54.6" width="1.6" height="1.6" fill="#ff4f28"/><rect x="291.6" y="54.6" width="3.2" height="1.6" fill="#ffa356"/><rect x="294.8" y="54.6" width="1.6" height="1.6" fill="#ff4f28"/><rect x="296.4" y="54.6" width="1.6" height="1.6" fill="#ffa356"/><rect x="298.0" y="54.6" width="3.2" height="1.6" fill="#ff4f28"/><rect x="301.2" y="54.6" width="1.6" height="1.6" fill="#dbd77b"/><rect x="302.8" y="54.6" width="1.6" height="1.6" fill="#70febd"/><rect x="310.8" y="54.6" width="1.6" height="1.6" fill="#70febd"/><rect x="312.4" y="54.6" width="1.6" height="1.6" fill="#4c4ffc"/><rect x="315.6" y="54.6" width="1.6" height="1.6" fill="#4c4ffc"/><rect x="261.2" y="56.2" width="1.6" height="1.6" fill="#70febd"/><rect x="262.8" y="56.2" width="1.6" height="1.6" fill="#4df3ce"/><rect x="264.4" y="56.2" width="1.6" height="1.6" fill="#ff4f28"/><rect x="266.0" y="56.2" width="1.6" height="1.6" fill="#70febd"/><rect x="267.6" y="56.2" width="1.6" height="1.6" fill="#4df3ce"/><rect x="269.2" y="56.2" width="3.2" height="1.6" fill="#ffa356"/><rect x="272.4" y="56.2" width="3.2" height="1.6" fill="#ff4f28"/><rect x="286.8" y="56.2" width="1.6" height="1.6" fill="#ff4f28"/><rect x="290.0" y="56.2" width="1.6" height="1.6" fill="#dbd77b"/><rect x="291.6" y="56.2" width="1.6" height="1.6" fill="#ffa356"/><rect x="293.2" y="56.2" width="8.0" height="1.6" fill="#ff4f28"/><rect x="301.2" y="56.2" width="1.6" height="1.6" fill="#4c4ffc"/><rect x="302.8" y="56.2" width="1.6" height="1.6" fill="#ffa356"/><rect x="304.4" y="56.2" width="1.6" height="1.6" fill="#ff4f28"/><rect x="306.0" y="56.2" width="1.6" height="1.6" fill="#ffa356"/><rect x="307.6" y="56.2" width="3.2" height="1.6" fill="#70febd"/><rect x="312.4" y="56.2" width="3.2" height="1.6" fill="#ffa356"/><rect x="259.6" y="57.8" width="1.6" height="1.6" fill="#4df3ce"/><rect x="261.2" y="57.8" width="1.6" height="1.6" fill="#2982f6"/><rect x="262.8" y="57.8" width="1.6" height="1.6" fill="#19cee3"/><rect x="264.4" y="57.8" width="1.6" height="1.6" fill="#4df3ce"/><rect x="266.0" y="57.8" width="1.6" height="1.6" fill="#ffa356"/><rect x="267.6" y="57.8" width="1.6" height="1.6" fill="#ff4f28"/><rect x="269.2" y="57.8" width="3.2" height="1.6" fill="#ffa356"/><rect x="272.4" y="57.8" width="1.6" height="1.6" fill="#ff4f28"/><rect x="288.4" y="57.8" width="1.6" height="1.6" fill="#ffa356"/><rect x="290.0" y="57.8" width="1.6" height="1.6" fill="#ff4f28"/><rect x="291.6" y="57.8" width="1.6" height="1.6" fill="#70febd"/><rect x="293.2" y="57.8" width="1.6" height="1.6" fill="#dbd77b"/><rect x="294.8" y="57.8" width="1.6" height="1.6" fill="#ff4f28"/><rect x="296.4" y="57.8" width="1.6" height="1.6" fill="#ffa356"/><rect x="298.0" y="57.8" width="1.6" height="1.6" fill="#dbd77b"/><rect x="299.6" y="57.8" width="1.6" height="1.6" fill="#ff4f28"/><rect x="301.2" y="57.8" width="1.6" height="1.6" fill="#4c4ffc"/><rect x="302.8" y="57.8" width="1.6" height="1.6" fill="#70febd"/><rect x="304.4" y="57.8" width="3.2" height="1.6" fill="#ffa356"/><rect x="307.6" y="57.8" width="1.6" height="1.6" fill="#70febd"/><rect x="312.4" y="57.8" width="1.6" height="1.6" fill="#70febd"/><rect x="314.0" y="57.8" width="1.6" height="1.6" fill="#ffa356"/><rect x="259.6" y="59.4" width="1.6" height="1.6" fill="#4df3ce"/><rect x="261.2" y="59.4" width="1.6" height="1.6" fill="#70febd"/><rect x="262.8" y="59.4" width="1.6" height="1.6" fill="#dbd77b"/><rect x="264.4" y="59.4" width="1.6" height="1.6" fill="#ffa356"/><rect x="266.0" y="59.4" width="1.6" height="1.6" fill="#dbd77b"/><rect x="267.6" y="59.4" width="1.6" height="1.6" fill="#ffa356"/><rect x="269.2" y="59.4" width="1.6" height="1.6" fill="#ff4f28"/><rect x="270.8" y="59.4" width="1.6" height="1.6" fill="#ffa356"/><rect x="272.4" y="59.4" width="1.6" height="1.6" fill="#ff4f28"/><rect x="290.0" y="59.4" width="3.2" height="1.6" fill="#ff4f28"/><rect x="293.2" y="59.4" width="1.6" height="1.6" fill="#ffa356"/><rect x="294.8" y="59.4" width="3.2" height="1.6" fill="#ff4f28"/><rect x="298.0" y="59.4" width="3.2" height="1.6" fill="#ffa356"/><rect x="301.2" y="59.4" width="1.6" height="1.6" fill="#70febd"/><rect x="302.8" y="59.4" width="1.6" height="1.6" fill="#ff4f28"/><rect x="304.4" y="59.4" width="1.6" height="1.6" fill="#4c4ffc"/><rect x="306.0" y="59.4" width="1.6" height="1.6" fill="#70febd"/><rect x="307.6" y="59.4" width="4.8" height="1.6" fill="#ffa356"/><rect x="312.4" y="59.4" width="4.8" height="1.6" fill="#4c4ffc"/><rect x="261.2" y="61.0" width="4.8" height="1.6" fill="#2982f6"/><rect x="266.0" y="61.0" width="1.6" height="1.6" fill="#ff4f28"/><rect x="267.6" y="61.0" width="1.6" height="1.6" fill="#70febd"/><rect x="269.2" y="61.0" width="1.6" height="1.6" fill="#ffa356"/><rect x="270.8" y="61.0" width="1.6" height="1.6" fill="#dbd77b"/><rect x="272.4" y="61.0" width="1.6" height="1.6" fill="#ff4f28"/><rect x="290.0" y="61.0" width="1.6" height="1.6" fill="#ff4f28"/><rect x="291.6" y="61.0" width="3.2" height="1.6" fill="#ffa356"/><rect x="294.8" y="61.0" width="3.2" height="1.6" fill="#ff4f28"/><rect x="298.0" y="61.0" width="1.6" height="1.6" fill="#dbd77b"/><rect x="299.6" y="61.0" width="4.8" height="1.6" fill="#ff4f28"/><rect x="304.4" y="61.0" width="3.2" height="1.6" fill="#70febd"/><rect x="307.6" y="61.0" width="1.6" height="1.6" fill="#ffa356"/><rect x="310.8" y="61.0" width="1.6" height="1.6" fill="#4c4ffc"/><rect x="315.6" y="61.0" width="1.6" height="1.6" fill="#4c4ffc"/><rect x="317.2" y="61.0" width="1.6" height="1.6" fill="#ffa356"/><rect x="261.2" y="62.6" width="1.6" height="1.6" fill="#19cee3"/><rect x="262.8" y="62.6" width="1.6" height="1.6" fill="#dbd77b"/><rect x="264.4" y="62.6" width="1.6" height="1.6" fill="#ff4f28"/><rect x="266.0" y="62.6" width="1.6" height="1.6" fill="#70febd"/><rect x="267.6" y="62.6" width="3.2" height="1.6" fill="#ffa356"/><rect x="270.8" y="62.6" width="1.6" height="1.6" fill="#ff4f28"/><rect x="272.4" y="62.6" width="1.6" height="1.6" fill="#ffa356"/><rect x="288.4" y="62.6" width="1.6" height="1.6" fill="#ffa356"/><rect x="290.0" y="62.6" width="3.2" height="1.6" fill="#ff4f28"/><rect x="293.2" y="62.6" width="4.8" height="1.6" fill="#ffa356"/><rect x="298.0" y="62.6" width="3.2" height="1.6" fill="#ff4f28"/><rect x="301.2" y="62.6" width="1.6" height="1.6" fill="#ffa356"/><rect x="302.8" y="62.6" width="1.6" height="1.6" fill="#70febd"/><rect x="304.4" y="62.6" width="1.6" height="1.6" fill="#19cee3"/><rect x="307.6" y="62.6" width="3.2" height="1.6" fill="#70febd"/><rect x="310.8" y="62.6" width="1.6" height="1.6" fill="#4c4ffc"/><rect x="312.4" y="62.6" width="1.6" height="1.6" fill="#ffa356"/><rect x="317.2" y="62.6" width="1.6" height="1.6" fill="#4c4ffc"/><rect x="259.6" y="64.2" width="1.6" height="1.6" fill="#2982f6"/><rect x="261.2" y="64.2" width="1.6" height="1.6" fill="#19cee3"/><rect x="262.8" y="64.2" width="1.6" height="1.6" fill="#4df3ce"/><rect x="264.4" y="64.2" width="6.4" height="1.6" fill="#ffa356"/><rect x="270.8" y="64.2" width="4.8" height="1.6" fill="#ff4f28"/><rect x="288.4" y="64.2" width="3.2" height="1.6" fill="#ff4f28"/><rect x="291.6" y="64.2" width="1.6" height="1.6" fill="#ffa356"/><rect x="293.2" y="64.2" width="3.2" height="1.6" fill="#ff4f28"/><rect x="296.4" y="64.2" width="1.6" height="1.6" fill="#ffa356"/><rect x="298.0" y="64.2" width="1.6" height="1.6" fill="#ff4f28"/><rect x="299.6" y="64.2" width="3.2" height="1.6" fill="#ffa356"/><rect x="302.8" y="64.2" width="1.6" height="1.6" fill="#70febd"/><rect x="304.4" y="64.2" width="8.0" height="1.6" fill="#ffa356"/><rect x="312.4" y="64.2" width="1.6" height="1.6" fill="#4c4ffc"/><rect x="261.2" y="65.8" width="1.6" height="1.6" fill="#19cee3"/><rect x="262.8" y="65.8" width="1.6" height="1.6" fill="#ffa356"/><rect x="264.4" y="65.8" width="1.6" height="1.6" fill="#2982f6"/><rect x="266.0" y="65.8" width="1.6" height="1.6" fill="#70febd"/><rect x="267.6" y="65.8" width="1.6" height="1.6" fill="#ff4f28"/><rect x="269.2" y="65.8" width="1.6" height="1.6" fill="#ffa356"/><rect x="270.8" y="65.8" width="3.2" height="1.6" fill="#ff4f28"/><rect x="288.4" y="65.8" width="1.6" height="1.6" fill="#ffa356"/><rect x="290.0" y="65.8" width="3.2" height="1.6" fill="#ff4f28"/><rect x="293.2" y="65.8" width="1.6" height="1.6" fill="#ffa356"/><rect x="294.8" y="65.8" width="1.6" height="1.6" fill="#ff4f28"/><rect x="296.4" y="65.8" width="1.6" height="1.6" fill="#dbd77b"/><rect x="298.0" y="65.8" width="1.6" height="1.6" fill="#ffa356"/><rect x="299.6" y="65.8" width="1.6" height="1.6" fill="#ff4f28"/><rect x="301.2" y="65.8" width="1.6" height="1.6" fill="#70febd"/><rect x="302.8" y="65.8" width="1.6" height="1.6" fill="#ff4f28"/><rect x="304.4" y="65.8" width="1.6" height="1.6" fill="#4c4ffc"/><rect x="306.0" y="65.8" width="9.6" height="1.6" fill="#ffa356"/><rect x="317.2" y="65.8" width="1.6" height="1.6" fill="#ffa356"/><rect x="259.6" y="67.4" width="1.6" height="1.6" fill="#70febd"/><rect x="261.2" y="67.4" width="3.2" height="1.6" fill="#4df3ce"/><rect x="264.4" y="67.4" width="1.6" height="1.6" fill="#ff4f28"/><rect x="266.0" y="67.4" width="1.6" height="1.6" fill="#dbd77b"/><rect x="267.6" y="67.4" width="1.6" height="1.6" fill="#70febd"/><rect x="269.2" y="67.4" width="1.6" height="1.6" fill="#ffa356"/><rect x="270.8" y="67.4" width="1.6" height="1.6" fill="#70febd"/><rect x="272.4" y="67.4" width="1.6" height="1.6" fill="#ff4f28"/><rect x="288.4" y="67.4" width="1.6" height="1.6" fill="#ff4f28"/><rect x="290.0" y="67.4" width="6.4" height="1.6" fill="#ffa356"/><rect x="296.4" y="67.4" width="1.6" height="1.6" fill="#ff4f28"/><rect x="298.0" y="67.4" width="1.6" height="1.6" fill="#dbd77b"/><rect x="299.6" y="67.4" width="3.2" height="1.6" fill="#ff4f28"/><rect x="302.8" y="67.4" width="1.6" height="1.6" fill="#ffa356"/><rect x="304.4" y="67.4" width="1.6" height="1.6" fill="#ff4f28"/><rect x="306.0" y="67.4" width="1.6" height="1.6" fill="#4c4ffc"/><rect x="307.6" y="67.4" width="1.6" height="1.6" fill="#70febd"/><rect x="309.2" y="67.4" width="4.8" height="1.6" fill="#ffa356"/><rect x="261.2" y="69.0" width="1.6" height="1.6" fill="#4df3ce"/><rect x="262.8" y="69.0" width="1.6" height="1.6" fill="#2982f6"/><rect x="264.4" y="69.0" width="1.6" height="1.6" fill="#70febd"/><rect x="266.0" y="69.0" width="1.6" height="1.6" fill="#4df3ce"/><rect x="267.6" y="69.0" width="1.6" height="1.6" fill="#dbd77b"/><rect x="269.2" y="69.0" width="4.8" height="1.6" fill="#ff4f28"/><rect x="290.0" y="69.0" width="1.6" height="1.6" fill="#ffa356"/><rect x="291.6" y="69.0" width="4.8" height="1.6" fill="#ff4f28"/><rect x="296.4" y="69.0" width="1.6" height="1.6" fill="#ffa356"/><rect x="298.0" y="69.0" width="4.8" height="1.6" fill="#ff4f28"/><rect x="302.8" y="69.0" width="3.2" height="1.6" fill="#70febd"/><rect x="306.0" y="69.0" width="4.8" height="1.6" fill="#ffa356"/><rect x="310.8" y="69.0" width="1.6" height="1.6" fill="#70febd"/><rect x="312.4" y="69.0" width="1.6" height="1.6" fill="#ffa356"/><rect x="261.2" y="70.6" width="3.2" height="1.6" fill="#2982f6"/><rect x="264.4" y="70.6" width="1.6" height="1.6" fill="#ffa356"/><rect x="266.0" y="70.6" width="1.6" height="1.6" fill="#70febd"/><rect x="267.6" y="70.6" width="1.6" height="1.6" fill="#ff4f28"/><rect x="269.2" y="70.6" width="1.6" height="1.6" fill="#dbd77b"/><rect x="270.8" y="70.6" width="1.6" height="1.6" fill="#ff4f28"/><rect x="272.4" y="70.6" width="1.6" height="1.6" fill="#dbd77b"/><rect x="288.4" y="70.6" width="14.4" height="1.6" fill="#ff4f28"/><rect x="302.8" y="70.6" width="1.6" height="1.6" fill="#ffa356"/><rect x="304.4" y="70.6" width="1.6" height="1.6" fill="#19cee3"/><rect x="306.0" y="70.6" width="3.2" height="1.6" fill="#ffa356"/><rect x="309.2" y="70.6" width="1.6" height="1.6" fill="#4c4ffc"/><rect x="310.8" y="70.6" width="3.2" height="1.6" fill="#ffa356"/><rect x="314.0" y="70.6" width="1.6" height="1.6" fill="#ff4f28"/><rect x="259.6" y="72.2" width="1.6" height="1.6" fill="#19cee3"/><rect x="261.2" y="72.2" width="1.6" height="1.6" fill="#8000ff"/><rect x="262.8" y="72.2" width="1.6" height="1.6" fill="#2982f6"/><rect x="266.0" y="72.2" width="1.6" height="1.6" fill="#70febd"/><rect x="267.6" y="72.2" width="1.6" height="1.6" fill="#ffa356"/><rect x="269.2" y="72.2" width="4.8" height="1.6" fill="#ff4f28"/><rect x="290.0" y="72.2" width="1.6" height="1.6" fill="#ffa356"/><rect x="291.6" y="72.2" width="6.4" height="1.6" fill="#ff4f28"/><rect x="298.0" y="72.2" width="1.6" height="1.6" fill="#dbd77b"/><rect x="299.6" y="72.2" width="4.8" height="1.6" fill="#ff4f28"/><rect x="304.4" y="72.2" width="1.6" height="1.6" fill="#70febd"/><rect x="306.0" y="72.2" width="1.6" height="1.6" fill="#4c4ffc"/><rect x="307.6" y="72.2" width="1.6" height="1.6" fill="#ffa356"/><rect x="309.2" y="72.2" width="1.6" height="1.6" fill="#ff4f28"/><rect x="310.8" y="72.2" width="1.6" height="1.6" fill="#ffa356"/><rect x="315.6" y="72.2" width="1.6" height="1.6" fill="#ffa356"/><rect x="317.2" y="72.2" width="1.6" height="1.6" fill="#4c4ffc"/><rect x="259.6" y="73.8" width="1.6" height="1.6" fill="#19cee3"/><rect x="261.2" y="73.8" width="1.6" height="1.6" fill="#4df3ce"/><rect x="262.8" y="73.8" width="1.6" height="1.6" fill="#2982f6"/><rect x="264.4" y="73.8" width="1.6" height="1.6" fill="#dbd77b"/><rect x="266.0" y="73.8" width="1.6" height="1.6" fill="#2982f6"/><rect x="267.6" y="73.8" width="1.6" height="1.6" fill="#dbd77b"/><rect x="269.2" y="73.8" width="1.6" height="1.6" fill="#ffa356"/><rect x="270.8" y="73.8" width="4.8" height="1.6" fill="#ff4f28"/><rect x="290.0" y="73.8" width="3.2" height="1.6" fill="#ffa356"/><rect x="293.2" y="73.8" width="3.2" height="1.6" fill="#ff4f28"/><rect x="296.4" y="73.8" width="1.6" height="1.6" fill="#dbd77b"/><rect x="298.0" y="73.8" width="1.6" height="1.6" fill="#ff4f28"/><rect x="299.6" y="73.8" width="1.6" height="1.6" fill="#ffa356"/><rect x="301.2" y="73.8" width="1.6" height="1.6" fill="#70febd"/><rect x="302.8" y="73.8" width="1.6" height="1.6" fill="#19cee3"/><rect x="304.4" y="73.8" width="1.6" height="1.6" fill="#70febd"/><rect x="306.0" y="73.8" width="3.2" height="1.6" fill="#ffa356"/><rect x="309.2" y="73.8" width="1.6" height="1.6" fill="#70febd"/><rect x="310.8" y="73.8" width="4.8" height="1.6" fill="#ffa356"/><rect x="315.6" y="73.8" width="1.6" height="1.6" fill="#4c4ffc"/><rect x="261.2" y="75.4" width="1.6" height="1.6" fill="#4df3ce"/><rect x="262.8" y="75.4" width="1.6" height="1.6" fill="#70febd"/><rect x="264.4" y="75.4" width="1.6" height="1.6" fill="#dbd77b"/><rect x="266.0" y="75.4" width="1.6" height="1.6" fill="#ffa356"/><rect x="267.6" y="75.4" width="1.6" height="1.6" fill="#70febd"/><rect x="269.2" y="75.4" width="3.2" height="1.6" fill="#ff4f28"/><rect x="272.4" y="75.4" width="1.6" height="1.6" fill="#ffa356"/><rect x="288.4" y="75.4" width="1.6" height="1.6" fill="#ffa356"/><rect x="290.0" y="75.4" width="1.6" height="1.6" fill="#ff4f28"/><rect x="291.6" y="75.4" width="1.6" height="1.6" fill="#70febd"/><rect x="293.2" y="75.4" width="3.2" height="1.6" fill="#ff4f28"/><rect x="296.4" y="75.4" width="1.6" height="1.6" fill="#dbd77b"/><rect x="298.0" y="75.4" width="1.6" height="1.6" fill="#70febd"/><rect x="299.6" y="75.4" width="1.6" height="1.6" fill="#ff4f28"/><rect x="301.2" y="75.4" width="1.6" height="1.6" fill="#70febd"/><rect x="302.8" y="75.4" width="1.6" height="1.6" fill="#ff4f28"/><rect x="304.4" y="75.4" width="1.6" height="1.6" fill="#70febd"/><rect x="306.0" y="75.4" width="9.6" height="1.6" fill="#ffa356"/><rect x="262.8" y="77.0" width="1.6" height="1.6" fill="#19cee3"/><rect x="264.4" y="77.0" width="1.6" height="1.6" fill="#4df3ce"/><rect x="266.0" y="77.0" width="1.6" height="1.6" fill="#70febd"/><rect x="267.6" y="77.0" width="1.6" height="1.6" fill="#ff4f28"/><rect x="269.2" y="77.0" width="1.6" height="1.6" fill="#ffa356"/><rect x="270.8" y="77.0" width="1.6" height="1.6" fill="#70febd"/><rect x="272.4" y="77.0" width="1.6" height="1.6" fill="#ff4f28"/><rect x="290.0" y="77.0" width="1.6" height="1.6" fill="#ff4f28"/><rect x="291.6" y="77.0" width="1.6" height="1.6" fill="#dbd77b"/><rect x="293.2" y="77.0" width="1.6" height="1.6" fill="#ffa356"/><rect x="294.8" y="77.0" width="1.6" height="1.6" fill="#ff4f28"/><rect x="296.4" y="77.0" width="4.8" height="1.6" fill="#ffa356"/><rect x="301.2" y="77.0" width="3.2" height="1.6" fill="#70febd"/><rect x="304.4" y="77.0" width="4.8" height="1.6" fill="#ffa356"/><rect x="309.2" y="77.0" width="1.6" height="1.6" fill="#4c4ffc"/><rect x="310.8" y="77.0" width="4.8" height="1.6" fill="#ffa356"/><rect x="261.2" y="78.6" width="1.6" height="1.6" fill="#19cee3"/><rect x="262.8" y="78.6" width="3.2" height="1.6" fill="#ff4f28"/><rect x="266.0" y="78.6" width="1.6" height="1.6" fill="#ffa356"/><rect x="267.6" y="78.6" width="1.6" height="1.6" fill="#dbd77b"/><rect x="269.2" y="78.6" width="4.8" height="1.6" fill="#ffa356"/><rect x="290.0" y="78.6" width="1.6" height="1.6" fill="#ff4f28"/><rect x="291.6" y="78.6" width="1.6" height="1.6" fill="#70febd"/><rect x="293.2" y="78.6" width="3.2" height="1.6" fill="#ff4f28"/><rect x="296.4" y="78.6" width="1.6" height="1.6" fill="#ffa356"/><rect x="298.0" y="78.6" width="3.2" height="1.6" fill="#ff4f28"/><rect x="301.2" y="78.6" width="1.6" height="1.6" fill="#ffa356"/><rect x="302.8" y="78.6" width="3.2" height="1.6" fill="#70febd"/><rect x="306.0" y="78.6" width="9.6" height="1.6" fill="#ffa356"/><rect x="317.2" y="78.6" width="1.6" height="1.6" fill="#ffa356"/><rect x="259.6" y="80.2" width="1.6" height="1.6" fill="#dbd77b"/><rect x="261.2" y="80.2" width="1.6" height="1.6" fill="#4df3ce"/><rect x="262.8" y="80.2" width="1.6" height="1.6" fill="#19cee3"/><rect x="264.4" y="80.2" width="1.6" height="1.6" fill="#ffa356"/><rect x="266.0" y="80.2" width="1.6" height="1.6" fill="#dbd77b"/><rect x="267.6" y="80.2" width="1.6" height="1.6" fill="#70febd"/><rect x="269.2" y="80.2" width="1.6" height="1.6" fill="#ff4f28"/><rect x="270.8" y="80.2" width="1.6" height="1.6" fill="#dbd77b"/><rect x="272.4" y="80.2" width="3.2" height="1.6" fill="#ff4f28"/><rect x="288.4" y="80.2" width="1.6" height="1.6" fill="#ffa356"/><rect x="290.0" y="80.2" width="4.8" height="1.6" fill="#ff4f28"/><rect x="294.8" y="80.2" width="1.6" height="1.6" fill="#dbd77b"/><rect x="296.4" y="80.2" width="1.6" height="1.6" fill="#ffa356"/><rect x="298.0" y="80.2" width="3.2" height="1.6" fill="#ff4f28"/><rect x="301.2" y="80.2" width="1.6" height="1.6" fill="#ffa356"/><rect x="302.8" y="80.2" width="1.6" height="1.6" fill="#70febd"/><rect x="304.4" y="80.2" width="6.4" height="1.6" fill="#ffa356"/><rect x="310.8" y="80.2" width="1.6" height="1.6" fill="#70febd"/><rect x="315.6" y="80.2" width="1.6" height="1.6" fill="#4c4ffc"/><rect x="259.6" y="81.8" width="1.6" height="1.6" fill="#19cee3"/><rect x="261.2" y="81.8" width="3.2" height="1.6" fill="#2982f6"/><rect x="264.4" y="81.8" width="1.6" height="1.6" fill="#4df3ce"/><rect x="266.0" y="81.8" width="1.6" height="1.6" fill="#ffa356"/><rect x="267.6" y="81.8" width="1.6" height="1.6" fill="#dbd77b"/><rect x="269.2" y="81.8" width="1.6" height="1.6" fill="#ffa356"/><rect x="270.8" y="81.8" width="4.8" height="1.6" fill="#ff4f28"/><rect x="288.4" y="81.8" width="11.2" height="1.6" fill="#ff4f28"/><rect x="299.6" y="81.8" width="1.6" height="1.6" fill="#ffa356"/><rect x="301.2" y="81.8" width="3.2" height="1.6" fill="#70febd"/><rect x="304.4" y="81.8" width="1.6" height="1.6" fill="#ffa356"/><rect x="306.0" y="81.8" width="1.6" height="1.6" fill="#70febd"/><rect x="307.6" y="81.8" width="4.8" height="1.6" fill="#ffa356"/><rect x="314.0" y="81.8" width="1.6" height="1.6" fill="#ffa356"/><rect x="261.2" y="83.4" width="1.6" height="1.6" fill="#4df3ce"/><rect x="264.4" y="83.4" width="1.6" height="1.6" fill="#4df3ce"/><rect x="266.0" y="83.4" width="1.6" height="1.6" fill="#ffa356"/><rect x="267.6" y="83.4" width="3.2" height="1.6" fill="#ff4f28"/><rect x="270.8" y="83.4" width="3.2" height="1.6" fill="#ffa356"/><rect x="288.4" y="83.4" width="14.4" height="1.6" fill="#ff4f28"/><rect x="302.8" y="83.4" width="3.2" height="1.6" fill="#19cee3"/><rect x="306.0" y="83.4" width="6.4" height="1.6" fill="#ffa356"/><rect x="312.4" y="83.4" width="1.6" height="1.6" fill="#4c4ffc"/><rect x="262.8" y="85.0" width="1.6" height="1.6" fill="#2982f6"/><rect x="264.4" y="85.0" width="1.6" height="1.6" fill="#19cee3"/><rect x="266.0" y="85.0" width="1.6" height="1.6" fill="#ffa356"/><rect x="267.6" y="85.0" width="1.6" height="1.6" fill="#70febd"/><rect x="269.2" y="85.0" width="4.8" height="1.6" fill="#ff4f28"/><rect x="288.4" y="85.0" width="14.4" height="1.6" fill="#ff4f28"/><rect x="302.8" y="85.0" width="1.6" height="1.6" fill="#4c4ffc"/><rect x="304.4" y="85.0" width="1.6" height="1.6" fill="#70febd"/><rect x="306.0" y="85.0" width="1.6" height="1.6" fill="#ffa356"/><rect x="307.6" y="85.0" width="1.6" height="1.6" fill="#4c4ffc"/><rect x="309.2" y="85.0" width="3.2" height="1.6" fill="#ffa356"/><rect x="312.4" y="85.0" width="1.6" height="1.6" fill="#4c4ffc"/><rect x="317.2" y="85.0" width="1.6" height="1.6" fill="#4c4ffc"/><rect x="259.6" y="86.6" width="1.6" height="1.6" fill="#4df3ce"/><rect x="264.4" y="86.6" width="1.6" height="1.6" fill="#4df3ce"/><rect x="266.0" y="86.6" width="1.6" height="1.6" fill="#ffa356"/><rect x="267.6" y="86.6" width="1.6" height="1.6" fill="#70febd"/><rect x="269.2" y="86.6" width="4.8" height="1.6" fill="#ff4f28"/><rect x="290.0" y="86.6" width="12.8" height="1.6" fill="#ff4f28"/><rect x="302.8" y="86.6" width="1.6" height="1.6" fill="#70febd"/><rect x="304.4" y="86.6" width="3.2" height="1.6" fill="#4c4ffc"/><rect x="307.6" y="86.6" width="3.2" height="1.6" fill="#ffa356"/><rect x="310.8" y="86.6" width="1.6" height="1.6" fill="#4c4ffc"/><rect x="314.0" y="86.6" width="4.8" height="1.6" fill="#4c4ffc"/><rect x="259.6" y="88.2" width="1.6" height="1.6" fill="#19cee3"/><rect x="261.2" y="88.2" width="1.6" height="1.6" fill="#70febd"/><rect x="262.8" y="88.2" width="1.6" height="1.6" fill="#4df3ce"/><rect x="264.4" y="88.2" width="1.6" height="1.6" fill="#ff4f28"/><rect x="266.0" y="88.2" width="1.6" height="1.6" fill="#2982f6"/><rect x="267.6" y="88.2" width="4.8" height="1.6" fill="#ff4f28"/><rect x="290.0" y="88.2" width="8.0" height="1.6" fill="#ff4f28"/><rect x="298.0" y="88.2" width="1.6" height="1.6" fill="#ffa356"/><rect x="299.6" y="88.2" width="3.2" height="1.6" fill="#ff4f28"/><rect x="302.8" y="88.2" width="1.6" height="1.6" fill="#4c4ffc"/><rect x="304.4" y="88.2" width="1.6" height="1.6" fill="#70febd"/><rect x="306.0" y="88.2" width="1.6" height="1.6" fill="#ffa356"/><rect x="307.6" y="88.2" width="1.6" height="1.6" fill="#ff4f28"/><rect x="309.2" y="88.2" width="6.4" height="1.6" fill="#ffa356"/><rect x="315.6" y="88.2" width="1.6" height="1.6" fill="#4c4ffc"/><rect x="261.2" y="89.8" width="1.6" height="1.6" fill="#dbd77b"/><rect x="262.8" y="89.8" width="3.2" height="1.6" fill="#ffa356"/><rect x="266.0" y="89.8" width="1.6" height="1.6" fill="#70febd"/><rect x="267.6" y="89.8" width="1.6" height="1.6" fill="#4df3ce"/><rect x="269.2" y="89.8" width="1.6" height="1.6" fill="#70febd"/><rect x="270.8" y="89.8" width="3.2" height="1.6" fill="#ff4f28"/><rect x="288.4" y="89.8" width="1.6" height="1.6" fill="#dbd77b"/><rect x="290.0" y="89.8" width="11.2" height="1.6" fill="#ff4f28"/><rect x="301.2" y="89.8" width="1.6" height="1.6" fill="#70febd"/><rect x="302.8" y="89.8" width="1.6" height="1.6" fill="#8000ff"/><rect x="304.4" y="89.8" width="1.6" height="1.6" fill="#ffa356"/><rect x="306.0" y="89.8" width="1.6" height="1.6" fill="#2982f6"/><rect x="307.6" y="89.8" width="3.2" height="1.6" fill="#ffa356"/><rect x="310.8" y="89.8" width="1.6" height="1.6" fill="#ff4f28"/><rect x="312.4" y="89.8" width="4.8" height="1.6" fill="#4c4ffc"/><rect x="261.2" y="91.4" width="1.6" height="1.6" fill="#19cee3"/><rect x="262.8" y="91.4" width="1.6" height="1.6" fill="#4df3ce"/><rect x="264.4" y="91.4" width="1.6" height="1.6" fill="#70febd"/><rect x="266.0" y="91.4" width="3.2" height="1.6" fill="#4df3ce"/><rect x="269.2" y="91.4" width="1.6" height="1.6" fill="#dbd77b"/><rect x="270.8" y="91.4" width="3.2" height="1.6" fill="#ff4f28"/><rect x="288.4" y="91.4" width="12.8" height="1.6" fill="#ff4f28"/><rect x="301.2" y="91.4" width="1.6" height="1.6" fill="#4c4ffc"/><rect x="302.8" y="91.4" width="3.2" height="1.6" fill="#70febd"/><rect x="306.0" y="91.4" width="4.8" height="1.6" fill="#ffa356"/><rect x="310.8" y="91.4" width="1.6" height="1.6" fill="#70febd"/><rect x="312.4" y="91.4" width="1.6" height="1.6" fill="#ffa356"/><rect x="314.0" y="91.4" width="4.8" height="1.6" fill="#4c4ffc"/><rect x="262.8" y="93.0" width="1.6" height="1.6" fill="#ffa356"/><rect x="264.4" y="93.0" width="1.6" height="1.6" fill="#ff4f28"/><rect x="266.0" y="93.0" width="1.6" height="1.6" fill="#70febd"/><rect x="267.6" y="93.0" width="1.6" height="1.6" fill="#dbd77b"/><rect x="269.2" y="93.0" width="4.8" height="1.6" fill="#ff4f28"/><rect x="290.0" y="93.0" width="4.8" height="1.6" fill="#ff4f28"/><rect x="294.8" y="93.0" width="1.6" height="1.6" fill="#ffa356"/><rect x="296.4" y="93.0" width="4.8" height="1.6" fill="#ff4f28"/><rect x="301.2" y="93.0" width="1.6" height="1.6" fill="#2982f6"/><rect x="302.8" y="93.0" width="3.2" height="1.6" fill="#4c4ffc"/><rect x="306.0" y="93.0" width="1.6" height="1.6" fill="#70febd"/><rect x="307.6" y="93.0" width="1.6" height="1.6" fill="#ffa356"/><rect x="309.2" y="93.0" width="1.6" height="1.6" fill="#70febd"/><rect x="310.8" y="93.0" width="1.6" height="1.6" fill="#ffa356"/><rect x="312.4" y="93.0" width="6.4" height="1.6" fill="#4c4ffc"/><rect x="266.0" y="94.6" width="1.6" height="1.6" fill="#70febd"/><rect x="267.6" y="94.6" width="4.8" height="1.6" fill="#ff4f28"/><rect x="272.4" y="94.6" width="1.6" height="1.6" fill="#dbd77b"/><rect x="288.4" y="94.6" width="6.4" height="1.6" fill="#ff4f28"/><rect x="294.8" y="94.6" width="1.6" height="1.6" fill="#ffa356"/><rect x="296.4" y="94.6" width="4.8" height="1.6" fill="#ff4f28"/><rect x="301.2" y="94.6" width="1.6" height="1.6" fill="#2982f6"/><rect x="302.8" y="94.6" width="3.2" height="1.6" fill="#4c4ffc"/><rect x="306.0" y="94.6" width="6.4" height="1.6" fill="#ffa356"/><rect x="312.4" y="94.6" width="1.6" height="1.6" fill="#4c4ffc"/><rect x="314.0" y="94.6" width="1.6" height="1.6" fill="#70febd"/><rect x="317.2" y="94.6" width="1.6" height="1.6" fill="#4c4ffc"/><rect x="269.2" y="96.2" width="6.4" height="1.6" fill="#ff4f28"/><rect x="288.4" y="96.2" width="12.8" height="1.6" fill="#ff4f28"/><rect x="301.2" y="96.2" width="1.6" height="1.6" fill="#ffa356"/><rect x="302.8" y="96.2" width="1.6" height="1.6" fill="#ff4f28"/><rect x="304.4" y="96.2" width="1.6" height="1.6" fill="#70febd"/><rect x="306.0" y="96.2" width="3.2" height="1.6" fill="#ffa356"/><rect x="309.2" y="96.2" width="1.6" height="1.6" fill="#70febd"/><rect x="310.8" y="96.2" width="3.2" height="1.6" fill="#ffa356"/><rect x="314.0" y="96.2" width="3.2" height="1.6" fill="#4c4ffc"/><rect x="270.8" y="97.8" width="3.2" height="1.6" fill="#ff4f28"/><rect x="275.6" y="97.8" width="1.6" height="1.6" fill="#ff4f28"/><rect x="278.8" y="97.8" width="1.6" height="1.6" fill="#ff4f28"/><rect x="282.0" y="97.8" width="19.2" height="1.6" fill="#ff4f28"/><rect x="301.2" y="97.8" width="3.2" height="1.6" fill="#4c4ffc"/><rect x="304.4" y="97.8" width="1.6" height="1.6" fill="#2982f6"/><rect x="306.0" y="97.8" width="3.2" height="1.6" fill="#ffa356"/><rect x="309.2" y="97.8" width="1.6" height="1.6" fill="#4c4ffc"/><rect x="310.8" y="97.8" width="1.6" height="1.6" fill="#ffa356"/><rect x="312.4" y="97.8" width="4.8" height="1.6" fill="#4c4ffc"/><rect x="278.8" y="99.4" width="22.4" height="1.6" fill="#ff4f28"/><rect x="301.2" y="99.4" width="3.2" height="1.6" fill="#4c4ffc"/><rect x="304.4" y="99.4" width="3.2" height="1.6" fill="#70febd"/><rect x="307.6" y="99.4" width="6.4" height="1.6" fill="#ffa356"/><rect x="314.0" y="99.4" width="4.8" height="1.6" fill="#4c4ffc"/><rect x="280.4" y="101.0" width="12.8" height="1.6" fill="#ff4f28"/><rect x="293.2" y="101.0" width="1.6" height="1.6" fill="#ffa356"/><rect x="294.8" y="101.0" width="4.8" height="1.6" fill="#ff4f28"/><rect x="299.6" y="101.0" width="1.6" height="1.6" fill="#ffa356"/><rect x="301.2" y="101.0" width="1.6" height="1.6" fill="#8000ff"/><rect x="302.8" y="101.0" width="3.2" height="1.6" fill="#4c4ffc"/><rect x="306.0" y="101.0" width="9.6" height="1.6" fill="#ffa356"/><rect x="315.6" y="101.0" width="3.2" height="1.6" fill="#4c4ffc"/><rect x="285.2" y="102.6" width="11.2" height="1.6" fill="#ff4f28"/><rect x="296.4" y="102.6" width="1.6" height="1.6" fill="#dbd77b"/><rect x="298.0" y="102.6" width="3.2" height="1.6" fill="#ff4f28"/><rect x="301.2" y="102.6" width="1.6" height="1.6" fill="#2982f6"/><rect x="302.8" y="102.6" width="1.6" height="1.6" fill="#4c4ffc"/><rect x="304.4" y="102.6" width="8.0" height="1.6" fill="#ffa356"/><rect x="312.4" y="102.6" width="1.6" height="1.6" fill="#4c4ffc"/><rect x="314.0" y="102.6" width="1.6" height="1.6" fill="#ffa356"/><rect x="315.6" y="102.6" width="1.6" height="1.6" fill="#8000ff"/><rect x="290.0" y="104.2" width="6.4" height="1.6" fill="#ff4f28"/><rect x="296.4" y="104.2" width="1.6" height="1.6" fill="#dbd77b"/><rect x="298.0" y="104.2" width="1.6" height="1.6" fill="#ff4f28"/><rect x="299.6" y="104.2" width="1.6" height="1.6" fill="#dbd77b"/><rect x="301.2" y="104.2" width="1.6" height="1.6" fill="#70febd"/><rect x="302.8" y="104.2" width="1.6" height="1.6" fill="#4c4ffc"/><rect x="304.4" y="104.2" width="6.4" height="1.6" fill="#ffa356"/><rect x="310.8" y="104.2" width="1.6" height="1.6" fill="#ff4f28"/><rect x="312.4" y="104.2" width="3.2" height="1.6" fill="#4c4ffc"/><rect x="318.8" y="104.2" width="1.6" height="1.6" fill="#4c4ffc"/><rect x="294.8" y="105.8" width="1.6" height="1.6" fill="#ff4f28"/><rect x="296.4" y="105.8" width="1.6" height="1.6" fill="#ffa356"/><rect x="298.0" y="105.8" width="4.8" height="1.6" fill="#ff4f28"/><rect x="302.8" y="105.8" width="1.6" height="1.6" fill="#70febd"/><rect x="304.4" y="105.8" width="1.6" height="1.6" fill="#19cee3"/><rect x="306.0" y="105.8" width="8.0" height="1.6" fill="#ffa356"/><rect x="314.0" y="105.8" width="6.4" height="1.6" fill="#4c4ffc"/><rect x="299.6" y="107.4" width="3.2" height="1.6" fill="#ff4f28"/><rect x="304.4" y="107.4" width="1.6" height="1.6" fill="#4c4ffc"/><rect x="306.0" y="107.4" width="8.0" height="1.6" fill="#ffa356"/><rect x="314.0" y="107.4" width="1.6" height="1.6" fill="#4c4ffc"/><rect x="315.6" y="107.4" width="1.6" height="1.6" fill="#8000ff"/><rect x="317.2" y="107.4" width="1.6" height="1.6" fill="#4c4ffc"/><rect x="306.0" y="109.0" width="1.6" height="1.6" fill="#ff4f28"/><rect x="307.6" y="109.0" width="8.0" height="1.6" fill="#ffa356"/><rect x="315.6" y="109.0" width="3.2" height="1.6" fill="#4c4ffc"/><rect x="307.6" y="110.6" width="8.0" height="1.6" fill="#ffa356"/><rect x="315.6" y="110.6" width="1.6" height="1.6" fill="#4c4ffc"/><rect x="310.8" y="112.2" width="1.6" height="1.6" fill="#ffa356"/><rect x="312.4" y="112.2" width="4.8" height="1.6" fill="#4c4ffc"/></g><rect x="534.4" y="95.5" width="2" height="2" fill="#4c4ffc"/><rect x="541.9" y="99.4" width="2" height="2" fill="#ff4f28"/><rect x="535.0" y="124.1" width="2" height="2" fill="#8000ff"/><rect x="538.7" y="124.3" width="2" height="2" fill="#19cee3"/><rect x="540.1" y="125.9" width="2" height="2" fill="#b2f396"/><rect x="539.4" y="130.5" width="2" height="2" fill="#80ffb4"/><rect x="534.3" y="647.7" width="2" height="2" fill="#8000ff"/><rect x="539.0" y="650.3" width="2" height="2" fill="#80ffb4"/><rect x="541.7" y="647.7" width="2" height="2" fill="#ff4f28"/><rect x="539.7" y="646.6" width="2" height="2" fill="#b2f396"/><g clip-path="url(#rclip)" shape-rendering="crispEdges"><polygon points="804.1,431.8 861.0,431.3 861.0,462.2 808.9,461.9 808.9,453.7 809.5,448.3 809.5,440.3 807.8,437.7 804.1,435.5" fill="#ff4f28"/><rect x="809.8" y="430.0" width="6.4" height="1.6" fill="#4c4ffc"/><rect x="816.2" y="430.0" width="1.6" height="1.6" fill="#ff4f28"/><rect x="817.8" y="430.0" width="3.2" height="1.6" fill="#4c4ffc"/><rect x="822.6" y="430.0" width="6.4" height="1.6" fill="#4c4ffc"/><rect x="830.6" y="430.0" width="1.6" height="1.6" fill="#4c4ffc"/><rect x="833.8" y="430.0" width="1.6" height="1.6" fill="#4c4ffc"/><rect x="837.0" y="430.0" width="1.6" height="1.6" fill="#4c4ffc"/><rect x="838.6" y="430.0" width="1.6" height="1.6" fill="#ff4f28"/><rect x="841.8" y="430.0" width="3.2" height="1.6" fill="#4c4ffc"/><rect x="846.6" y="430.0" width="1.6" height="1.6" fill="#4c4ffc"/><rect x="849.8" y="430.0" width="9.6" height="1.6" fill="#4c4ffc"/><rect x="798.6" y="431.6" width="8.0" height="1.6" fill="#4c4ffc"/><rect x="806.6" y="431.6" width="38.4" height="1.6" fill="#ff4f28"/><rect x="845.0" y="431.6" width="3.2" height="1.6" fill="#4c4ffc"/><rect x="848.2" y="431.6" width="1.6" height="1.6" fill="#ff4f28"/><rect x="849.8" y="431.6" width="1.6" height="1.6" fill="#19cee3"/><rect x="851.4" y="431.6" width="1.6" height="1.6" fill="#ffa356"/><rect x="853.0" y="431.6" width="3.2" height="1.6" fill="#4c4ffc"/><rect x="856.2" y="431.6" width="4.8" height="1.6" fill="#ff4f28"/><rect x="798.6" y="433.2" width="9.6" height="1.6" fill="#4c4ffc"/><rect x="808.2" y="433.2" width="1.6" height="1.6" fill="#ff4f28"/><rect x="809.8" y="433.2" width="1.6" height="1.6" fill="#b2f396"/><rect x="811.4" y="433.2" width="33.6" height="1.6" fill="#ff4f28"/><rect x="845.0" y="433.2" width="4.8" height="1.6" fill="#4c4ffc"/><rect x="849.8" y="433.2" width="1.6" height="1.6" fill="#ff4f28"/><rect x="851.4" y="433.2" width="1.6" height="1.6" fill="#19cee3"/><rect x="853.0" y="433.2" width="1.6" height="1.6" fill="#4c4ffc"/><rect x="854.6" y="433.2" width="3.2" height="1.6" fill="#ff4f28"/><rect x="857.8" y="433.2" width="3.2" height="1.6" fill="#4c4ffc"/><rect x="798.6" y="434.8" width="3.2" height="1.6" fill="#4c4ffc"/><rect x="803.4" y="434.8" width="4.8" height="1.6" fill="#4c4ffc"/><rect x="808.2" y="434.8" width="1.6" height="1.6" fill="#b2f396"/><rect x="809.8" y="434.8" width="38.4" height="1.6" fill="#ff4f28"/><rect x="848.2" y="434.8" width="1.6" height="1.6" fill="#19cee3"/><rect x="849.8" y="434.8" width="1.6" height="1.6" fill="#ff4f28"/><rect x="851.4" y="434.8" width="1.6" height="1.6" fill="#4c4ffc"/><rect x="853.0" y="434.8" width="1.6" height="1.6" fill="#ff4f28"/><rect x="854.6" y="434.8" width="1.6" height="1.6" fill="#ffa356"/><rect x="856.2" y="434.8" width="1.6" height="1.6" fill="#4c4ffc"/><rect x="857.8" y="434.8" width="1.6" height="1.6" fill="#19cee3"/><rect x="859.4" y="434.8" width="1.6" height="1.6" fill="#4c4ffc"/><rect x="806.6" y="436.4" width="8.0" height="1.6" fill="#ff4f28"/><rect x="814.6" y="436.4" width="1.6" height="1.6" fill="#b2f396"/><rect x="816.2" y="436.4" width="33.6" height="1.6" fill="#ff4f28"/><rect x="849.8" y="436.4" width="1.6" height="1.6" fill="#70febd"/><rect x="851.4" y="436.4" width="9.6" height="1.6" fill="#ff4f28"/><rect x="808.2" y="438.0" width="3.2" height="1.6" fill="#ff4f28"/><rect x="811.4" y="438.0" width="1.6" height="1.6" fill="#b2f396"/><rect x="813.0" y="438.0" width="32.0" height="1.6" fill="#ff4f28"/><rect x="845.0" y="438.0" width="1.6" height="1.6" fill="#b2f396"/><rect x="846.6" y="438.0" width="4.8" height="1.6" fill="#ff4f28"/><rect x="851.4" y="438.0" width="1.6" height="1.6" fill="#ffa356"/><rect x="853.0" y="438.0" width="8.0" height="1.6" fill="#ff4f28"/><rect x="803.4" y="439.6" width="1.6" height="1.6" fill="#ffa356"/><rect x="805.0" y="439.6" width="1.6" height="1.6" fill="#b2f396"/><rect x="808.2" y="439.6" width="1.6" height="1.6" fill="#ffa356"/><rect x="809.8" y="439.6" width="32.0" height="1.6" fill="#ff4f28"/><rect x="841.8" y="439.6" width="1.6" height="1.6" fill="#ffa356"/><rect x="843.4" y="439.6" width="3.2" height="1.6" fill="#ff4f28"/><rect x="846.6" y="439.6" width="1.6" height="1.6" fill="#b2f396"/><rect x="848.2" y="439.6" width="12.8" height="1.6" fill="#ff4f28"/><rect x="803.4" y="441.2" width="6.4" height="1.6" fill="#ffa356"/><rect x="809.8" y="441.2" width="28.8" height="1.6" fill="#ff4f28"/><rect x="838.6" y="441.2" width="3.2" height="1.6" fill="#ffa356"/><rect x="841.8" y="441.2" width="4.8" height="1.6" fill="#ff4f28"/><rect x="846.6" y="441.2" width="1.6" height="1.6" fill="#b2f396"/><rect x="848.2" y="441.2" width="12.8" height="1.6" fill="#ff4f28"/><rect x="805.0" y="442.8" width="1.6" height="1.6" fill="#ffa356"/><rect x="806.6" y="442.8" width="1.6" height="1.6" fill="#ff4f28"/><rect x="808.2" y="442.8" width="1.6" height="1.6" fill="#ffa356"/><rect x="809.8" y="442.8" width="30.4" height="1.6" fill="#ff4f28"/><rect x="840.2" y="442.8" width="1.6" height="1.6" fill="#ffa356"/><rect x="841.8" y="442.8" width="16.0" height="1.6" fill="#ff4f28"/><rect x="857.8" y="442.8" width="1.6" height="1.6" fill="#ffa356"/><rect x="859.4" y="442.8" width="1.6" height="1.6" fill="#ff4f28"/><rect x="803.4" y="444.4" width="1.6" height="1.6" fill="#ffa356"/><rect x="806.6" y="444.4" width="1.6" height="1.6" fill="#b2f396"/><rect x="809.8" y="444.4" width="28.8" height="1.6" fill="#ff4f28"/><rect x="838.6" y="444.4" width="1.6" height="1.6" fill="#b2f396"/><rect x="840.2" y="444.4" width="20.8" height="1.6" fill="#ff4f28"/><rect x="805.0" y="446.0" width="1.6" height="1.6" fill="#ffa356"/><rect x="806.6" y="446.0" width="1.6" height="1.6" fill="#b2f396"/><rect x="809.8" y="446.0" width="28.8" height="1.6" fill="#ff4f28"/><rect x="838.6" y="446.0" width="3.2" height="1.6" fill="#70febd"/><rect x="841.8" y="446.0" width="4.8" height="1.6" fill="#ff4f28"/><rect x="846.6" y="446.0" width="1.6" height="1.6" fill="#70febd"/><rect x="848.2" y="446.0" width="12.8" height="1.6" fill="#ff4f28"/><rect x="805.0" y="447.6" width="1.6" height="1.6" fill="#b2f396"/><rect x="806.6" y="447.6" width="3.2" height="1.6" fill="#ffa356"/><rect x="809.8" y="447.6" width="33.6" height="1.6" fill="#ff4f28"/><rect x="843.4" y="447.6" width="1.6" height="1.6" fill="#b2f396"/><rect x="845.0" y="447.6" width="16.0" height="1.6" fill="#ff4f28"/><rect x="803.4" y="449.2" width="1.6" height="1.6" fill="#b2f396"/><rect x="805.0" y="449.2" width="4.8" height="1.6" fill="#ffa356"/><rect x="809.8" y="449.2" width="30.4" height="1.6" fill="#ff4f28"/><rect x="840.2" y="449.2" width="1.6" height="1.6" fill="#b2f396"/><rect x="841.8" y="449.2" width="11.2" height="1.6" fill="#ff4f28"/><rect x="853.0" y="449.2" width="1.6" height="1.6" fill="#70febd"/><rect x="854.6" y="449.2" width="4.8" height="1.6" fill="#ff4f28"/><rect x="859.4" y="449.2" width="1.6" height="1.6" fill="#ffa356"/><rect x="803.4" y="450.8" width="1.6" height="1.6" fill="#ffa356"/><rect x="808.2" y="450.8" width="1.6" height="1.6" fill="#ffa356"/><rect x="809.8" y="450.8" width="12.8" height="1.6" fill="#ff4f28"/><rect x="822.6" y="450.8" width="1.6" height="1.6" fill="#ffa356"/><rect x="824.2" y="450.8" width="14.4" height="1.6" fill="#ff4f28"/><rect x="838.6" y="450.8" width="1.6" height="1.6" fill="#70febd"/><rect x="840.2" y="450.8" width="20.8" height="1.6" fill="#ff4f28"/><rect x="803.4" y="452.4" width="4.8" height="1.6" fill="#ffa356"/><rect x="808.2" y="452.4" width="12.8" height="1.6" fill="#ff4f28"/><rect x="821.0" y="452.4" width="1.6" height="1.6" fill="#ffa356"/><rect x="822.6" y="452.4" width="38.4" height="1.6" fill="#ff4f28"/><rect x="798.6" y="454.0" width="9.6" height="1.6" fill="#ffa356"/><rect x="808.2" y="454.0" width="52.8" height="1.6" fill="#ff4f28"/><rect x="798.6" y="455.6" width="9.6" height="1.6" fill="#ffa356"/><rect x="808.2" y="455.6" width="52.8" height="1.6" fill="#ff4f28"/><rect x="808.2" y="457.2" width="52.8" height="1.6" fill="#ff4f28"/><rect x="808.2" y="458.8" width="52.8" height="1.6" fill="#ff4f28"/><rect x="808.2" y="460.4" width="41.6" height="1.6" fill="#ff4f28"/><rect x="849.8" y="460.4" width="1.6" height="1.6" fill="#b2f396"/><rect x="851.4" y="460.4" width="9.6" height="1.6" fill="#ff4f28"/><rect x="809.8" y="462.0" width="1.6" height="1.6" fill="#ffa356"/><rect x="819.4" y="462.0" width="1.6" height="1.6" fill="#ffa356"/><rect x="822.6" y="462.0" width="1.6" height="1.6" fill="#8000ff"/><rect x="829.0" y="462.0" width="1.6" height="1.6" fill="#b2f396"/><rect x="835.4" y="462.0" width="1.6" height="1.6" fill="#8000ff"/><rect x="838.6" y="462.0" width="1.6" height="1.6" fill="#ffa356"/><rect x="843.4" y="462.0" width="1.6" height="1.6" fill="#b2f396"/><rect x="846.6" y="462.0" width="1.6" height="1.6" fill="#b2f396"/><rect x="848.2" y="462.0" width="1.6" height="1.6" fill="#19cee3"/><rect x="851.4" y="462.0" width="1.6" height="1.6" fill="#19cee3"/><rect x="859.4" y="462.0" width="1.6" height="1.6" fill="#19cee3"/><rect x="801.2" y="438.5" width="2" height="2" fill="#4c4ffc"/><rect x="799.5" y="448.0" width="2" height="2" fill="#ffa356"/><rect x="801.0" y="450.0" width="2" height="2" fill="#ffa356"/><rect x="804.5" y="458.2" width="2" height="2" fill="#8000ff"/><rect x="806.0" y="458.2" width="2" height="2" fill="#8000ff"/><rect x="803.3" y="461.2" width="2" height="2" fill="#19cee3"/></g><rect x="778.0" y="651.0" width="2" height="2" fill="#b2f396"/><rect x="782.0" y="647.0" width="2" height="2" fill="#b2f396"/><rect x="784.5" y="649.0" width="2" height="2" fill="#8000ff"/><rect x="784.0" y="650.3" width="2" height="2" fill="#19cee3"/><rect x="810.6" y="648.0" width="2" height="2" fill="#ff4f28"/><rect x="814.7" y="648.0" width="2" height="2" fill="#4c4ffc"/><text x="219.3" y="52.4" font-size="10.42">15</text><text x="219.3" y="87.4" font-size="10.42">10</text><text x="219.3" y="122.4" font-size="10.42">5</text><text x="219.3" y="157.4" font-size="10.42">0</text><text x="185.8" y="105" font-size="12">Km</text><text x="234.3" y="654.8" font-size="10.42" text-anchor="end">40°N</text><text x="234.3" y="607.0" font-size="10.42" text-anchor="end">40.5°N</text><text x="234.3" y="558.8" font-size="10.42" text-anchor="end">41°N</text><text x="234.3" y="510.2" font-size="10.42" text-anchor="end">41.5°N</text><text x="234.3" y="461.3" font-size="10.42" text-anchor="end">42°N</text><text x="234.3" y="412.0" font-size="10.42" text-anchor="end">42.5°N</text><text x="234.3" y="362.3" font-size="10.42" text-anchor="end">43°N</text><text x="234.3" y="312.2" font-size="10.42" text-anchor="end">43.5°N</text><text x="234.3" y="261.7" font-size="10.42" text-anchor="end">44°N</text><text x="234.3" y="210.7" font-size="10.42" text-anchor="end">44.5°N</text><text x="241.4" y="667" font-size="10.42" text-anchor="middle">5°E</text><text x="277.9" y="667" font-size="10.42" text-anchor="middle">5.5°E</text><text x="314.4" y="667" font-size="10.42" text-anchor="middle">6°E</text><text x="350.9" y="667" font-size="10.42" text-anchor="middle">6.5°E</text><text x="387.4" y="667" font-size="10.42" text-anchor="middle">7°E</text><text x="423.9" y="667" font-size="10.42" text-anchor="middle">7.5°E</text><text x="460.4" y="667" font-size="10.42" text-anchor="middle">8°E</text><text x="496.9" y="667" font-size="10.42" text-anchor="middle">8.5°E</text><text x="533.4" y="667" font-size="10.42" text-anchor="middle">9°E</text><text x="569.9" y="667" font-size="10.42" text-anchor="middle">9.5°E</text><text x="606.4" y="667" font-size="10.42" text-anchor="middle">10°E</text><text x="642.9" y="667" font-size="10.42" text-anchor="middle">10.5°E</text><text x="679.4" y="667" font-size="10.42" text-anchor="middle">11°E</text><text x="715.9" y="667" font-size="10.42" text-anchor="middle">11.5°E</text><text x="752.3" y="667" font-size="10.42">0</text><text x="788.6" y="667" font-size="10.42">5</text><text x="824.6" y="667" font-size="10.42">10</text><text x="861.4" y="667" font-size="10.42">15</text><text x="806.7" y="675.8" font-size="12">Km</text><g fill="#000" font-size="10.42" text-anchor="middle"><text x="772.85" y="83.9">6</text><text x="784.35" y="83.9">:</text><text x="815.80" y="83.9">64010</text></g><g fill="#f00" font-size="10.42" text-anchor="middle"><text x="772.90" y="94.2">7</text><text x="784.35" y="94.2">:</text><text x="815.70" y="94.2">42184</text></g><g fill="#000" font-size="10.42" text-anchor="middle"><text x="772.90" y="104.5">8</text><text x="784.35" y="104.5">:</text><text x="815.80" y="104.5">23324</text></g><g fill="#000" font-size="10.42" text-anchor="middle"><text x="772.60" y="114.8">9</text><text x="784.50" y="114.8">:</text><text x="816.00" y="114.8">1375</text></g><g fill="#000" font-size="10.42" text-anchor="middle"><text x="772.85" y="125.1">10</text><text x="788.00" y="125.1">:</text><text x="819.30" y="125.1">158</text></g><g fill="#000" font-size="10.42" text-anchor="middle"><text x="772.60" y="135.4">11</text><text x="788.00" y="135.4">:</text><text x="818.70" y="135.4">2</text></g><g fill="#000" font-size="10.42" text-anchor="middle"><text x="772.60" y="145.7">12</text><text x="788.00" y="145.7">:</text><text x="818.90" y="145.7">0</text></g><rect x="158.5" y="690.5" width="787" height="38" fill="url(#rbw)" stroke="#000" stroke-width="1"/><line x1="158.5" y1="729" x2="158.5" y2="732.8" stroke="#000" stroke-width="1"/><text x="158.5" y="742.7" font-size="10.42" text-anchor="middle">0</text><line x1="315.5" y1="729" x2="315.5" y2="732.8" stroke="#000" stroke-width="1"/><text x="315.5" y="742.7" font-size="10.42" text-anchor="middle">2</text><line x1="473.5" y1="729" x2="473.5" y2="732.8" stroke="#000" stroke-width="1"/><text x="473.5" y="742.7" font-size="10.42" text-anchor="middle">4</text><line x1="630.5" y1="729" x2="630.5" y2="732.8" stroke="#000" stroke-width="1"/><text x="630.5" y="742.7" font-size="10.42" text-anchor="middle">6</text><line x1="788.5" y1="729" x2="788.5" y2="732.8" stroke="#000" stroke-width="1"/><text x="788.5" y="742.7" font-size="10.42" text-anchor="middle">8</text><line x1="945.5" y1="729" x2="945.5" y2="732.8" stroke="#000" stroke-width="1"/><text x="945.5" y="742.7" font-size="10.42" text-anchor="middle">10</text><text x="434" y="718.7" font-size="18.75">from 01:10:00 to 01:19:59</text></svg></body></html>
